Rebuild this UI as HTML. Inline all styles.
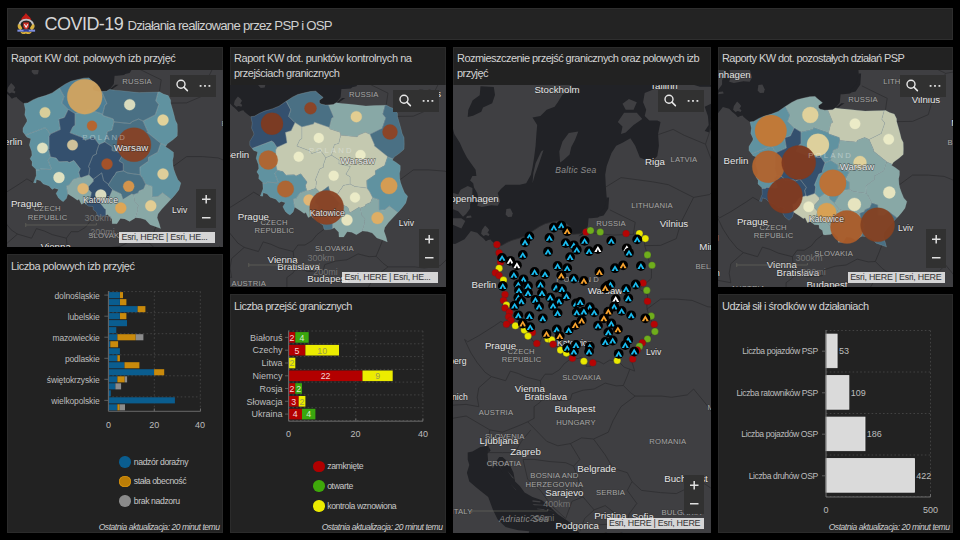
<!DOCTYPE html><html><head><meta charset="utf-8"><style>
*{box-sizing:border-box}
body{margin:0;width:960px;height:540px;background:#000;overflow:hidden;position:relative;font-family:"Liberation Sans",sans-serif;color:#ccc}
.pn{position:absolute;background:#222;border:1px solid #2b2b2b}
.hd{position:absolute;left:7px;top:8px;width:946px;height:32px;background:#232323;border:1px solid #2e2e2e}
.tt{position:absolute;left:3px;top:3.2px;font-size:11px;letter-spacing:-0.45px;color:#d2d2d2;line-height:15px;white-space:nowrap}
.map{position:absolute;display:block}
.tb{position:absolute;width:46px;height:22px;background:#313131}
.tb svg,.zm svg{display:block}
.zm{position:absolute;width:20px;height:39px;background:#313131}
.attr{position:absolute;height:10.6px;background:rgba(235,235,235,0.88);color:#333;font-size:8.9px;line-height:10.6px;padding-left:2.5px;white-space:nowrap;overflow:hidden;letter-spacing:-0.25px}
.ct{font-size:9.7px;fill:#e6e6e6;text-anchor:middle;stroke:#2a2a2a;stroke-width:1.3px;paint-order:stroke;stroke-opacity:0.55}
.cl{font-size:7.7px;fill:#a5a5a5;text-anchor:middle;letter-spacing:0.15px;stroke:#333;stroke-width:1.2px;paint-order:stroke;stroke-opacity:0.5}
.wl{font-size:8.5px;fill:#8d8d8d;text-anchor:middle;font-style:italic;letter-spacing:0.3px}
.sb{font-size:9px;fill:#7a7a7a;text-anchor:middle;opacity:0.9}
.ax{font-size:8.5px;fill:#bdbdbd}
.foot{position:absolute;font-size:8.5px;font-style:italic;color:#cfcfcf;white-space:nowrap;letter-spacing:-0.45px}
.lg{position:absolute;font-size:8.7px;color:#c8c8c8;white-space:nowrap;letter-spacing:-0.4px}
.lg i{position:absolute;width:11.5px;height:11.5px;border-radius:50%}
</style></head><body>
<div class="hd"></div>
<svg style="position:absolute;left:14px;top:10px" width="26" height="28" viewBox="14 10 26 28">
<path d="M21.2,20.3C21.3,17.5 23.2,16.8 24.3,15.2C25.1,14.1 25.6,13.4 25.9,12.9C26.4,13.6 27.1,14.5 28,15.6C29.3,17.1 31.2,18 31.1,20.3Z" fill="#c41d17"/>
<path d="M19.2,27.5C18.6,22.3 22,19.6 26.2,19.6C30.4,19.6 33.8,22.3 33.2,27.5" fill="none" stroke="#bfc1c6" stroke-width="1.9"/>
<path d="M17.8,24.6C17.3,27.3 18.2,29.3 20.6,30.3L22.3,28.2C21.6,26.8 20.6,25.4 19.6,24.3Z" fill="#d9b23e"/>
<path d="M34.4,24.6C34.9,27.3 34,29.3 31.6,30.3L29.9,28.2C30.6,26.8 31.6,25.4 32.6,24.3Z" fill="#d9b23e"/>
<path d="M23.3,22.6H28.9V26.2C28.9,27.8 27.6,28.9 26.1,29.3C24.6,28.9 23.3,27.8 23.3,26.2Z" fill="#cf2e27"/>
<path d="M24.4,24.3L26.1,27.2L27.8,24.3" fill="none" stroke="#f2f2f2" stroke-width="1.1"/>
<path d="M17.4,29.6H35.1V31.7H17.4Z" fill="#7f8fe0"/>
<path d="M23.5,29.9H28.8V31.5H23.5Z" fill="#2f3f9a"/>
<path d="M20.4,31.8C21.2,33.9 23.4,34.8 25.9,33.5C28.4,34.8 30.8,33.9 31.8,31.8C29.8,32.6 27.8,32.2 26.1,31.8C24.4,32.2 22.3,32.6 20.4,31.8Z" fill="#d8ae3c"/>
</svg>
<div style="position:absolute;left:44.6px;top:14px;font-size:18px;color:#d6d6d6;letter-spacing:-0.55px;white-space:nowrap">COVID-19</div>
<div style="position:absolute;left:127.5px;top:17.5px;font-size:13.2px;color:#d0d0d0;letter-spacing:-0.75px;white-space:nowrap">Działania realizowane przez PSP i OSP</div>
<div class="pn" style="left:7px;top:47px;width:216px;height:200px"><div class="tt" style="letter-spacing:-0.42px">Raport KW dot. polowych izb przyjęć</div></div>
<div class="pn" style="left:230px;top:47px;width:216px;height:240px"><div class="tt" style="letter-spacing:-0.44px">Raport KW dot. punktów kontrolnych na<br><span style="letter-spacing:-0.5px">przejściach granicznych</span></div></div>
<div class="pn" style="left:453px;top:47px;width:258px;height:486px"><div class="tt" style="letter-spacing:-0.54px">Rozmieszczenie przejść granicznych oraz polowych izb<br>przyjęć</div></div>
<div class="pn" style="left:718px;top:47px;width:235px;height:240px"><div class="tt" style="letter-spacing:-0.58px">Raporty KW dot. pozostałych działań PSP</div></div>
<div class="pn" style="left:7px;top:254px;width:216px;height:279px"><div class="tt" style="top:4.2px;letter-spacing:-0.45px">Liczba polowych izb przyjęć</div></div>
<div class="pn" style="left:230px;top:294px;width:216px;height:239px"><div class="tt" style="top:4.2px;letter-spacing:-0.52px">Liczba przejść granicznych</div></div>
<div class="pn" style="left:718px;top:294px;width:235px;height:239px"><div class="tt" style="top:4.2px;letter-spacing:-0.47px">Udział sił i środków w działaniach</div></div>
<svg width="0" height="0" style="position:absolute"><defs>
<g id="mkb"><circle r="4.9" fill="#000"/><path d="M-3.6,2.9L0,-3L3.6,2.9ZM-1.2,2.9L0,0.1L1.2,2.9Z" fill="#19bcf0" fill-rule="evenodd"/></g>
<g id="mko"><circle r="4.9" fill="#000"/><path d="M-3.6,2.9L0,-3L3.6,2.9ZM-1.2,2.9L0,0.1L1.2,2.9Z" fill="#f7a22e" fill-rule="evenodd"/></g>
<g id="mkw"><circle r="4.9" fill="#000"/><path d="M-3.6,2.9L0,-3L3.6,2.9ZM-1.2,2.9L0,0.1L1.2,2.9Z" fill="#ffffff" fill-rule="evenodd"/></g>
</defs></svg>
<svg class="map" style="left:7px;top:70px;width:216px;height:177px" viewBox="7 70 216 177">
<defs><clipPath id="c7"><rect x="7" y="70" width="216" height="177"/></clipPath></defs>
<g clip-path="url(#c7)">
<rect x="7" y="70" width="216" height="177" fill="#3f3f42"/>
<path d="M-58.4,-79.3L-23.7,-73.0L-25.3,-44.9L-23.7,-29.7L-22.1,-17.6L-19.7,-8.6L-14.2,0.2L-11.0,7.6L-7.1,14.9L-3.1,20.7L1.6,27.3L2.4,33.6L-1.6,33.6L-3.9,37.9L-0.8,40.8L0.0,45.0L3.2,50.6L4.8,57.7L3.2,63.2L7.9,64.6L17.4,62.7L23.7,63.2L26.1,59.1L23.7,50.6L26.9,46.4L31.6,42.2L41.1,42.2L45.8,42.2L52.2,40.8L56.9,32.2L58.5,25.0L60.1,14.9L61.6,3.2L62.4,-8.6L63.2,-17.6L58.5,-25.1L66.4,-26.6L72.7,-32.7L80.6,-35.7L83.8,-40.3L88.5,-48.0L94.8,-51.1L101.1,-63.6L96.4,-76.2L99.6,-92.1L131.2,-92.1L147.0,-73.0L162.8,-69.8L178.6,-76.2L194.4,-79.3L210.2,-85.7L226.0,-88.9L249.7,-92.1L249.7,-60.4L241.8,-55.8L226.0,-55.8L210.2,-60.4L194.4,-57.3L186.5,-55.8L178.6,-52.7L170.7,-49.6L169.1,-40.3L172.2,-32.7L170.7,-26.6L175.4,-22.1L183.3,-22.1L186.5,-20.6L184.1,-8.6L184.9,3.2L183.3,13.4L180.1,16.9L172.2,17.8L165.9,14.9L161.2,3.2L156.4,-4.2L148.5,0.2L142.2,3.2L137.5,10.5L132.7,23.6L131.2,32.2L132.0,46.4L132.7,54.9L133.5,63.2L129.6,68.8L124.1,75.1L116.9,75.7L114.6,75.7L113.8,83.9L109.4,89.4L106.5,91.3L98.8,91.8L94.0,90.7L92.5,89.1L92.5,86.9L96.4,84.2L90.9,79.8L89.1,77.9L83.8,78.2L76.8,79.8L71.1,81.2L65.6,83.9L58.6,88.5L52.2,92.9L45.5,95.6L37.9,97.8L32.9,99.9L27.7,102.9L24.0,103.4L20.6,101.0L17.4,98.3L16.6,96.9L14.2,97.5L11.9,98.8L9.5,96.1L7.1,94.0L6.3,93.4L3.2,90.2L-3.1,88.5L-9.5,96.7L-18.9,101.5L-26.8,100.2L-58.4,88.0Z" fill="#212226"/>
<path d="M-6.3,310.1L-1.6,309.0L6.3,304.5L14.2,303.3L16.6,307.9L13.5,311.2L14.2,319.1L19.0,325.8L22.1,319.1L25.3,314.6L28.5,314.6L34.8,320.2L39.5,330.2L41.1,339.1L45.8,343.5L50.6,350.1L58.5,354.4L68.0,357.7L75.9,364.2L83.8,371.7L91.7,377.1L96.4,380.3L101.1,384.6L105.1,389.9L107.5,397.3L107.5,438.8L52.2,438.8L52.2,398.3L55.3,388.8L44.3,387.8L31.6,384.6L23.7,377.1L19.0,367.4L14.2,354.4L3.2,345.7L-4.7,339.1L-7.1,330.2L-4.7,322.4L-6.3,316.9Z" fill="#212226"/>
<path d="M7.1,91.3L9.5,93.4L11.9,92.6L14.6,93.4L15.5,91.8L13.5,90.2L15.2,87.5L13.5,85.3L11.1,83.1L9.5,85.3L7.9,87.5Z" fill="#3f3f42"/>
<path d="M31.6,72.1L32.4,66.6L36.4,66.0L38.7,70.7L37.9,74.3L34.0,74.6Z" fill="#3f3f42"/>
<path d="M58.5,40.8L60.9,32.2L65.6,19.2L69.5,7.6L67.2,9.1L61.6,20.7L59.3,30.8Z" fill="#3f3f42"/>
<path d="M86.1,20.1L85.3,9.1L88.5,-0.9L94.8,-9.5L104.3,-11.0L101.1,-2.7L97.2,4.7L95.6,12.0L89.3,17.8Z" fill="#3f3f42"/>
<path d="M-25.3,54.9L-24.5,65.2L-15.8,68.8L-11.0,74.3L-7.9,71.6L-3.9,66.0L-3.9,61.8L-1.6,56.3L-1.6,45.6L-6.3,43.6L-13.4,47.3L-15.8,52.1L-20.5,50.6Z" fill="#3f3f42"/>
<path d="M-26.8,78.4L-20.5,82.5L-12.6,86.1L-8.7,78.4L-12.6,75.7L-22.1,75.7Z" fill="#3f3f42"/>
<path d="M-7.9,75.7L-2.3,75.1L-3.1,72.9L-7.1,73.5Z" fill="#3f3f42"/>
<path d="M143.8,-20.6L150.1,-29.7L162.8,-29.7L168.3,-23.6L159.6,-17.6L151.7,-10.1L147.0,-8.6L148.5,-16.1Z" fill="#3f3f42"/>
<path d="M148.5,-38.8L154.9,-43.4L162.8,-40.3L159.6,-32.7L151.7,-32.7Z" fill="#3f3f42"/>
<path d="M28.5,321.3L33.2,316.9L31.6,322.4Z" fill="#3f3f42"/>
<path d="M25.3,319.1L27.7,328.0L28.5,330.2L26.1,323.6Z" fill="#3f3f42"/>
<path d="M33.2,328.0L41.1,336.9L37.9,334.7Z" fill="#3f3f42"/>
<path d="M58.5,357.7L66.4,358.8L66.4,359.9L58.5,359.2Z" fill="#3f3f42"/>
<path d="M58.5,361.4L71.1,362.5L69.5,363.1L60.1,362.7Z" fill="#3f3f42"/>
<path d="M63.2,365.9L71.1,366.8L69.5,367.4L63.2,366.8Z" fill="#3f3f42"/>
<path d="M36.4,341.3L42.7,347.9L41.1,346.8Z" fill="#3f3f42"/>
<path d="M72.7,366.3L80.6,369.6L75.9,367.9Z" fill="#3f3f42"/>
<path d="M6.5,-56.2L19.8,-55.5L21.0,-47.5L18.2,-39.2L9.0,-35.0L7.3,-30.8L-1.0,-26.7L-6.3,-25.5L-5.7,-32.5L-1.3,-42.2L5.7,-47.2Z" fill="#212226"/>
<path d="M104.3,94.0L109.4,89.4L115.4,84.7L118.5,84.7L113.8,88.0L108.3,92.6Z" fill="#212226"/>
<path d="M124.1,74.3L129.6,72.9L134.3,66.0L135.1,54.9L132.7,54.9L130.4,66.0L124.8,71.6Z" fill="#212226"/>
<path d="M230.7,-11.6L234.7,-17.6L233.9,-26.6L230.7,-35.7L237.0,-38.8L241.8,-32.7L240.2,-20.6L235.4,-10.1Z" fill="#212226"/>
<path d="M33.5,182.7L26.9,178.9L20.6,183.2L4.8,193.2L-6.3,199.3L-9.5,196.9L-3.1,210.4L3.2,220.1L11.1,229.8L17.4,234.1M17.4,234.1L31.6,238.2L36.4,228.6L44.3,231.0L52.2,234.6L66.4,238.2M66.4,238.2L71.1,231.7L78.2,231.7L85.3,227.4L90.1,221.4L97.2,216.0M70.3,252.4L80.6,258.3L96.4,257.2L98.0,251.3L109.0,247.7L120.1,246.5L131.2,240.6L142.2,243.4L149.3,243.0M149.3,243.0L153.3,233.4L155.8,226.7M66.4,238.2L67.2,246.5L70.3,252.4M70.3,252.4L66.4,259.5L60.1,264.2L60.1,275.8L53.7,279.3M53.7,279.3L61.6,287.4L72.7,298.8L83.8,303.3L96.4,301.1M96.4,301.1L107.5,295.4L119.5,296.5M119.5,296.5L134.3,289.7L139.1,278.1L147.0,264.2L161.2,253.6M149.3,243.0L156.4,250.1L161.2,253.6M161.2,253.6L170.7,253.6L188.0,253.6L197.5,254.8L213.3,252.4L219.6,246.5M219.6,246.5L232.3,261.9L241.8,275.8L244.9,287.4M119.5,296.5L131.2,312.4L139.1,325.8L153.3,330.2L158.0,339.1M158.0,339.1L153.3,347.9L162.8,360.9L154.9,371.7L153.3,380.3M158.0,339.1L167.5,347.9L186.5,350.1L202.3,351.1L218.1,343.5L230.7,341.3L241.8,349.0M96.4,301.1L105.9,316.9L99.6,323.6M49.0,316.9L60.1,316.9L75.9,319.1L91.7,320.2L99.6,323.6M49.0,316.9L53.7,336.9L66.4,347.9L77.4,363.1L91.7,376.0M99.6,323.6L104.3,336.9L109.0,354.4M91.7,376.0L98.0,358.8L109.0,354.4M109.0,354.4L120.1,367.4L110.6,376.0L105.9,388.8M120.1,367.4L131.2,363.1L142.2,371.7L139.1,381.4M123.3,382.4L139.1,381.4L153.3,380.3M14.2,310.1L28.5,310.1L41.1,310.1L47.4,298.8L56.9,287.4M15.8,287.4L28.5,289.7L45.8,282.8L53.7,279.3M15.8,287.4L14.2,298.8L14.2,310.1M-34.7,278.1L-7.9,273.5L15.8,287.4M-49.0,264.2L-7.9,261.9L4.8,264.2L3.2,254.8L4.8,245.3L17.4,234.1M132.0,44.4L147.0,35.1L178.6,39.3L194.4,42.2L219.6,54.9M170.7,103.1L186.5,102.9L202.3,96.1L207.0,79.8L219.6,54.9M159.4,91.8L161.2,79.8L147.0,72.9L135.9,67.4M184.1,-7.8L199.1,-13.1L210.2,-7.2L231.5,1.7M219.6,54.9L235.4,52.1L244.9,43.6L238.6,20.7L231.5,1.7M231.5,1.7L235.4,-10.1L241.8,-55.8M172.7,166.8L186.5,156.6L202.3,156.6L218.1,157.9L233.9,164.3L249.7,165.5" fill="none" stroke="#2d2d30" stroke-width="0.8"/>
<path d="M24.0,103.4L27.7,102.9L32.9,99.9L37.9,97.8L45.5,95.6L52.2,92.9L58.6,88.5L65.6,83.9L71.1,81.2L76.8,79.8L83.8,78.2L89.1,77.9L90.9,79.8L96.4,84.2L92.5,86.9L92.5,89.1L94.0,90.7L98.8,91.8L106.5,91.3L109.4,89.4L115.4,90.2L121.7,90.7L131.2,91.8L139.1,92.6L147.0,92.3L159.4,91.8L163.6,94.0L168.3,95.6L170.7,100.2L170.7,103.1L172.6,109.6L174.1,114.9L175.4,120.2L177.3,124.1L177.5,130.7L177.3,135.9L173.0,139.8L167.5,143.7L165.5,146.8L169.1,148.9L173.5,152.2L173.5,156.6L172.7,160.2L173.0,165.5L173.8,169.3L175.7,174.4L177.8,179.4L180.9,182.9L179.0,189.7L175.4,194.4L171.9,198.4L165.9,204.8L161.7,209.2L158.0,214.1L157.2,217.7L159.3,223.8L160.6,228.6L155.8,226.7L150.1,224.7L145.4,219.7L140.6,218.2L135.6,217.7L129.6,221.4L124.8,218.9L120.4,218.4L116.9,223.8L112.2,223.8L111.9,218.9L107.5,214.5L104.3,216.0L98.8,216.5L97.2,216.0L96.4,212.1L93.2,209.7L92.9,206.5L88.5,206.2L84.6,203.0L81.4,204.3L79.0,199.3L77.4,200.3L73.5,197.4L68.0,193.9L66.4,198.6L63.2,201.8L61.3,200.6L58.5,198.1L56.0,193.4L58.5,189.4L54.5,188.2L52.2,189.4L49.0,185.9L43.2,183.9L40.3,180.7L36.4,179.4L36.0,182.9L33.5,182.7L35.6,176.9L36.2,175.7L35.9,169.3L31.9,165.5L32.1,161.7L30.0,158.7L31.9,155.3L31.6,151.5L29.3,145.0L30.8,138.8L26.9,137.2L22.9,132.0L22.9,128.1L26.9,121.5L26.9,119.7L24.7,114.9L25.3,109.6L24.0,103.4Z" fill="none" stroke="#2d2d30" stroke-width="0.8"/>
<path d="M25.4,135.1L44.8,127.8L46.9,129.1L50.1,134.1L60.3,129.5L58.7,119.2L64.4,117.4L68.2,109.5L61.8,103.0L64.0,96.6L59.4,88.0L58.6,88.5L52.2,92.9L45.5,95.6L37.9,97.8L32.9,99.9L27.7,102.9L24.0,103.4L25.3,109.6L24.7,114.9L26.9,119.7L26.9,121.5L22.9,128.1L22.9,132.0L25.3,135.1L25.4,135.1Z" fill="#6092a0"/>
<path d="M64.0,96.6L61.8,103.0L68.2,109.5L68.5,109.5L75.1,113.6L86.8,110.8L87.6,108.9L102.6,114.2L104.9,105.0L106.9,103.7L101.8,91.6L98.8,91.8L94.0,90.7L92.5,89.1L92.5,86.9L96.4,84.2L90.9,79.8L89.1,77.9L83.8,78.2L76.8,79.8L71.1,81.2L65.6,83.9L59.4,88.0L64.0,96.6Z" fill="#4e7f96"/>
<path d="M106.9,103.7L104.9,105.0L102.6,114.2L103.1,115.6L113.2,118.9L113.9,121.9L129.8,123.5L130.9,123.2L131.6,121.8L138.6,119.0L143.1,121.0L154.7,115.2L155.1,115.3L158.8,104.5L155.8,100.8L158.2,91.9L147.0,92.3L139.1,92.6L131.2,91.8L121.7,90.7L115.4,90.2L109.4,89.4L106.5,91.3L101.8,91.6L106.9,103.7Z" fill="#4a7084"/>
<path d="M155.8,100.8L158.8,104.5L155.1,115.3L154.7,115.2L143.1,121.0L147.7,131.6L147.3,132.4L160.4,143.0L160.8,143.8L161.3,143.8L166.2,145.7L167.5,143.7L173.0,139.8L177.3,135.9L177.5,130.7L177.3,124.1L175.4,120.2L174.1,114.9L172.6,109.6L170.7,103.1L170.7,100.2L168.3,95.6L163.6,94.0L159.4,91.8L158.2,91.9L155.8,100.8Z" fill="#6092a0"/>
<path d="M113.9,121.9L113.2,118.9L103.1,115.6L102.6,114.2L87.6,108.9L86.8,110.8L75.1,113.6L75.1,125.3L75.1,125.3L72.9,126.7L70.1,132.7L70.1,132.8L83.3,137.8L85.0,140.3L93.7,137.1L99.0,144.4L104.8,141.9L107.5,131.5L112.0,130.0L113.9,121.9Z" fill="#6092a0"/>
<path d="M104.8,141.9L112.3,146.8L112.1,150.5L123.6,153.2L119.1,160.9L123.3,163.5L123.3,170.8L128.0,173.2L128.2,173.1L140.2,174.8L139.9,167.2L148.6,161.1L148.4,157.4L157.8,152.2L160.5,144.1L160.8,143.8L160.4,143.0L147.3,132.4L147.7,131.6L143.1,121.0L138.6,119.0L131.6,121.8L130.9,123.2L129.8,123.5L113.9,121.9L112.0,130.0L107.5,131.5L104.8,141.9Z" fill="#4a7084"/>
<path d="M46.9,129.1L44.8,127.8L25.4,135.1L25.3,135.1L26.9,137.2L30.8,138.8L29.3,145.0L31.6,151.5L31.9,155.3L30.0,158.7L32.1,161.7L31.9,165.5L35.9,169.3L35.9,170.0L39.1,170.1L40.7,168.9L50.6,169.5L51.3,168.7L48.1,160.1L50.5,157.0L48.6,149.3L49.0,148.8L49.0,136.5L50.1,134.7L50.1,134.1L46.9,129.1Z" fill="#6092a0"/>
<path d="M58.7,119.2L60.3,129.5L50.1,134.1L50.1,134.7L49.0,136.5L49.0,148.8L48.6,149.3L50.5,157.0L56.1,158.1L59.0,161.8L67.4,161.5L69.2,162.6L73.9,160.5L80.3,168.8L78.7,172.2L79.9,177.2L81.1,177.8L88.9,174.9L89.7,168.4L88.5,166.6L92.9,155.7L96.6,153.9L96.5,151.9L99.0,144.4L93.7,137.1L85.0,140.3L83.3,137.8L70.1,132.8L70.1,132.7L72.9,126.7L75.1,125.3L75.1,125.3L75.1,113.6L68.5,109.5L68.2,109.5L64.4,117.4L58.7,119.2Z" fill="#34506e"/>
<path d="M96.5,151.9L96.6,153.9L92.9,155.7L88.5,166.6L89.7,168.4L88.9,174.9L93.2,179.3L101.7,172.9L103.6,180.6L108.5,184.4L113.8,176.0L114.4,175.8L116.4,172.1L123.3,170.8L123.3,163.5L119.1,160.9L123.6,153.2L112.1,150.5L112.3,146.8L104.8,141.9L99.0,144.4L96.5,151.9Z" fill="#34506e"/>
<path d="M160.5,144.1L157.8,152.2L148.4,157.4L148.6,161.1L139.9,167.2L140.2,174.8L141.7,177.0L142.1,177.1L145.7,184.3L152.1,186.4L152.1,196.6L152.6,197.0L158.0,196.5L162.5,192.8L171.0,199.3L171.9,198.4L175.4,194.4L179.0,189.7L180.9,182.9L177.8,179.4L175.7,174.4L173.8,169.3L173.0,165.5L172.7,160.2L173.5,156.6L173.5,152.2L169.1,148.9L165.5,146.8L166.2,145.7L161.3,143.8L160.8,143.8L160.5,144.1Z" fill="#6092a0"/>
<path d="M40.7,168.9L39.1,170.1L35.9,170.0L36.2,175.7L35.6,176.9L33.5,182.7L36.0,182.9L36.4,179.4L40.3,180.7L43.2,183.9L49.0,185.9L52.2,189.4L54.5,188.2L58.5,189.4L56.0,193.4L58.5,198.1L61.3,200.6L63.2,201.8L66.4,198.6L67.9,194.1L66.6,185.9L69.2,185.1L73.2,179.6L79.9,177.2L78.7,172.2L80.3,168.8L73.9,160.5L69.2,162.6L67.4,161.5L59.0,161.8L56.1,158.1L50.5,157.0L48.1,160.1L51.3,168.7L50.6,169.5L40.7,168.9Z" fill="#6092a0"/>
<path d="M88.9,174.9L81.1,177.8L79.9,177.2L73.2,179.6L69.2,185.1L66.6,185.9L67.9,194.1L68.0,193.9L73.5,197.4L77.4,200.3L79.0,199.3L81.4,204.3L84.6,203.0L86.0,204.2L86.6,201.5L90.3,198.2L91.4,192.4L88.6,189.6L88.6,186.5L93.4,181.3L93.2,179.3L88.9,174.9Z" fill="#88a8a6"/>
<path d="M88.6,189.6L91.4,192.4L90.3,198.2L86.6,201.5L86.0,204.2L88.5,206.2L92.9,206.5L93.2,209.7L96.4,212.1L97.2,216.0L98.8,216.5L104.3,216.0L105.9,215.3L105.9,209.1L104.8,208.7L100.5,203.3L106.1,198.1L109.0,198.1L112.5,189.9L112.4,189.5L108.5,185.3L108.5,184.4L103.6,180.6L101.7,172.9L93.2,179.3L93.4,181.3L88.6,186.5L88.6,189.6Z" fill="#34506e"/>
<path d="M128.2,173.1L128.0,173.2L123.3,170.8L116.4,172.1L114.4,175.8L113.8,176.0L108.5,184.4L108.5,185.3L112.4,189.5L112.5,189.9L121.1,194.0L122.9,199.6L131.8,194.1L133.6,194.7L138.3,192.9L139.0,191.1L143.7,189.1L145.7,184.3L142.1,177.1L141.7,177.0L140.2,174.8L128.2,173.1Z" fill="#4a7084"/>
<path d="M106.1,198.1L100.5,203.3L104.8,208.7L105.9,209.1L105.9,215.3L107.5,214.5L111.9,218.9L112.2,223.8L116.9,223.8L120.4,218.4L124.8,218.9L129.6,221.4L135.3,217.9L137.9,209.5L137.6,207.3L138.5,205.8L134.8,201.6L133.6,194.7L131.8,194.1L122.9,199.6L121.1,194.0L112.5,189.9L109.0,198.1L106.1,198.1Z" fill="#88a8a6"/>
<path d="M143.7,189.1L139.0,191.1L138.3,192.9L133.6,194.7L134.8,201.6L138.5,205.8L137.6,207.3L137.9,209.5L135.3,217.9L135.6,217.7L140.6,218.2L145.4,219.7L150.1,224.7L155.8,226.7L160.6,228.6L159.3,223.8L157.2,217.7L158.0,214.1L161.7,209.2L165.9,204.8L171.0,199.3L162.5,192.8L158.0,196.5L152.6,197.0L152.1,196.6L152.1,186.4L145.7,184.3L143.7,189.1Z" fill="#88a8a6"/>
<path d="M25.4,135.1L44.8,127.8L46.9,129.1L50.1,134.1L60.3,129.5L58.7,119.2L64.4,117.4L68.2,109.5L61.8,103.0L64.0,96.6L59.4,88.0L58.6,88.5L52.2,92.9L45.5,95.6L37.9,97.8L32.9,99.9L27.7,102.9L24.0,103.4L25.3,109.6L24.7,114.9L26.9,119.7L26.9,121.5L22.9,128.1L22.9,132.0L25.3,135.1L25.4,135.1ZM64.0,96.6L61.8,103.0L68.2,109.5L68.5,109.5L75.1,113.6L86.8,110.8L87.6,108.9L102.6,114.2L104.9,105.0L106.9,103.7L101.8,91.6L98.8,91.8L94.0,90.7L92.5,89.1L92.5,86.9L96.4,84.2L90.9,79.8L89.1,77.9L83.8,78.2L76.8,79.8L71.1,81.2L65.6,83.9L59.4,88.0L64.0,96.6ZM106.9,103.7L104.9,105.0L102.6,114.2L103.1,115.6L113.2,118.9L113.9,121.9L129.8,123.5L130.9,123.2L131.6,121.8L138.6,119.0L143.1,121.0L154.7,115.2L155.1,115.3L158.8,104.5L155.8,100.8L158.2,91.9L147.0,92.3L139.1,92.6L131.2,91.8L121.7,90.7L115.4,90.2L109.4,89.4L106.5,91.3L101.8,91.6L106.9,103.7ZM155.8,100.8L158.8,104.5L155.1,115.3L154.7,115.2L143.1,121.0L147.7,131.6L147.3,132.4L160.4,143.0L160.8,143.8L161.3,143.8L166.2,145.7L167.5,143.7L173.0,139.8L177.3,135.9L177.5,130.7L177.3,124.1L175.4,120.2L174.1,114.9L172.6,109.6L170.7,103.1L170.7,100.2L168.3,95.6L163.6,94.0L159.4,91.8L158.2,91.9L155.8,100.8ZM113.9,121.9L113.2,118.9L103.1,115.6L102.6,114.2L87.6,108.9L86.8,110.8L75.1,113.6L75.1,125.3L75.1,125.3L72.9,126.7L70.1,132.7L70.1,132.8L83.3,137.8L85.0,140.3L93.7,137.1L99.0,144.4L104.8,141.9L107.5,131.5L112.0,130.0L113.9,121.9ZM104.8,141.9L112.3,146.8L112.1,150.5L123.6,153.2L119.1,160.9L123.3,163.5L123.3,170.8L128.0,173.2L128.2,173.1L140.2,174.8L139.9,167.2L148.6,161.1L148.4,157.4L157.8,152.2L160.5,144.1L160.8,143.8L160.4,143.0L147.3,132.4L147.7,131.6L143.1,121.0L138.6,119.0L131.6,121.8L130.9,123.2L129.8,123.5L113.9,121.9L112.0,130.0L107.5,131.5L104.8,141.9ZM46.9,129.1L44.8,127.8L25.4,135.1L25.3,135.1L26.9,137.2L30.8,138.8L29.3,145.0L31.6,151.5L31.9,155.3L30.0,158.7L32.1,161.7L31.9,165.5L35.9,169.3L35.9,170.0L39.1,170.1L40.7,168.9L50.6,169.5L51.3,168.7L48.1,160.1L50.5,157.0L48.6,149.3L49.0,148.8L49.0,136.5L50.1,134.7L50.1,134.1L46.9,129.1ZM58.7,119.2L60.3,129.5L50.1,134.1L50.1,134.7L49.0,136.5L49.0,148.8L48.6,149.3L50.5,157.0L56.1,158.1L59.0,161.8L67.4,161.5L69.2,162.6L73.9,160.5L80.3,168.8L78.7,172.2L79.9,177.2L81.1,177.8L88.9,174.9L89.7,168.4L88.5,166.6L92.9,155.7L96.6,153.9L96.5,151.9L99.0,144.4L93.7,137.1L85.0,140.3L83.3,137.8L70.1,132.8L70.1,132.7L72.9,126.7L75.1,125.3L75.1,125.3L75.1,113.6L68.5,109.5L68.2,109.5L64.4,117.4L58.7,119.2ZM96.5,151.9L96.6,153.9L92.9,155.7L88.5,166.6L89.7,168.4L88.9,174.9L93.2,179.3L101.7,172.9L103.6,180.6L108.5,184.4L113.8,176.0L114.4,175.8L116.4,172.1L123.3,170.8L123.3,163.5L119.1,160.9L123.6,153.2L112.1,150.5L112.3,146.8L104.8,141.9L99.0,144.4L96.5,151.9ZM160.5,144.1L157.8,152.2L148.4,157.4L148.6,161.1L139.9,167.2L140.2,174.8L141.7,177.0L142.1,177.1L145.7,184.3L152.1,186.4L152.1,196.6L152.6,197.0L158.0,196.5L162.5,192.8L171.0,199.3L171.9,198.4L175.4,194.4L179.0,189.7L180.9,182.9L177.8,179.4L175.7,174.4L173.8,169.3L173.0,165.5L172.7,160.2L173.5,156.6L173.5,152.2L169.1,148.9L165.5,146.8L166.2,145.7L161.3,143.8L160.8,143.8L160.5,144.1ZM40.7,168.9L39.1,170.1L35.9,170.0L36.2,175.7L35.6,176.9L33.5,182.7L36.0,182.9L36.4,179.4L40.3,180.7L43.2,183.9L49.0,185.9L52.2,189.4L54.5,188.2L58.5,189.4L56.0,193.4L58.5,198.1L61.3,200.6L63.2,201.8L66.4,198.6L67.9,194.1L66.6,185.9L69.2,185.1L73.2,179.6L79.9,177.2L78.7,172.2L80.3,168.8L73.9,160.5L69.2,162.6L67.4,161.5L59.0,161.8L56.1,158.1L50.5,157.0L48.1,160.1L51.3,168.7L50.6,169.5L40.7,168.9ZM88.9,174.9L81.1,177.8L79.9,177.2L73.2,179.6L69.2,185.1L66.6,185.9L67.9,194.1L68.0,193.9L73.5,197.4L77.4,200.3L79.0,199.3L81.4,204.3L84.6,203.0L86.0,204.2L86.6,201.5L90.3,198.2L91.4,192.4L88.6,189.6L88.6,186.5L93.4,181.3L93.2,179.3L88.9,174.9ZM88.6,189.6L91.4,192.4L90.3,198.2L86.6,201.5L86.0,204.2L88.5,206.2L92.9,206.5L93.2,209.7L96.4,212.1L97.2,216.0L98.8,216.5L104.3,216.0L105.9,215.3L105.9,209.1L104.8,208.7L100.5,203.3L106.1,198.1L109.0,198.1L112.5,189.9L112.4,189.5L108.5,185.3L108.5,184.4L103.6,180.6L101.7,172.9L93.2,179.3L93.4,181.3L88.6,186.5L88.6,189.6ZM128.2,173.1L128.0,173.2L123.3,170.8L116.4,172.1L114.4,175.8L113.8,176.0L108.5,184.4L108.5,185.3L112.4,189.5L112.5,189.9L121.1,194.0L122.9,199.6L131.8,194.1L133.6,194.7L138.3,192.9L139.0,191.1L143.7,189.1L145.7,184.3L142.1,177.1L141.7,177.0L140.2,174.8L128.2,173.1ZM106.1,198.1L100.5,203.3L104.8,208.7L105.9,209.1L105.9,215.3L107.5,214.5L111.9,218.9L112.2,223.8L116.9,223.8L120.4,218.4L124.8,218.9L129.6,221.4L135.3,217.9L137.9,209.5L137.6,207.3L138.5,205.8L134.8,201.6L133.6,194.7L131.8,194.1L122.9,199.6L121.1,194.0L112.5,189.9L109.0,198.1L106.1,198.1ZM143.7,189.1L139.0,191.1L138.3,192.9L133.6,194.7L134.8,201.6L138.5,205.8L137.6,207.3L137.9,209.5L135.3,217.9L135.6,217.7L140.6,218.2L145.4,219.7L150.1,224.7L155.8,226.7L160.6,228.6L159.3,223.8L157.2,217.7L158.0,214.1L161.7,209.2L165.9,204.8L171.0,199.3L162.5,192.8L158.0,196.5L152.6,197.0L152.1,196.6L152.1,186.4L145.7,184.3L143.7,189.1Z" fill="none" stroke="#9fb0b4" stroke-opacity="0.45" stroke-width="0.6"/>
<circle cx="45" cy="112.5" r="5.3" fill="#ddd09a" fill-opacity="0.96" stroke="#ddd09a" stroke-opacity="0.5" stroke-width="0.6"/>
<circle cx="84.7" cy="96.7" r="17.5" fill="#d0a360" fill-opacity="0.96" stroke="#d0a360" stroke-opacity="0.5" stroke-width="0.6"/>
<circle cx="129.7" cy="104.7" r="5.5" fill="#dfe0c0" fill-opacity="0.96" stroke="#dfe0c0" stroke-opacity="0.5" stroke-width="0.6"/>
<circle cx="163" cy="120" r="5.5" fill="#e6d49a" fill-opacity="0.96" stroke="#e6d49a" stroke-opacity="0.5" stroke-width="0.6"/>
<circle cx="42.5" cy="148" r="5.3" fill="#e4e4c2" fill-opacity="0.96" stroke="#e4e4c2" stroke-opacity="0.5" stroke-width="0.6"/>
<circle cx="72.5" cy="145" r="5.3" fill="#d4c69c" fill-opacity="0.96" stroke="#d4c69c" stroke-opacity="0.5" stroke-width="0.6"/>
<circle cx="92" cy="125.8" r="5" fill="#b8632c" fill-opacity="0.96" stroke="#b8632c" stroke-opacity="0.5" stroke-width="0.6"/>
<circle cx="134" cy="144.7" r="17" fill="#854326" fill-opacity="0.96" stroke="#854326" stroke-opacity="0.5" stroke-width="0.6"/>
<circle cx="107" cy="164" r="5.5" fill="#a85228" fill-opacity="0.96" stroke="#a85228" stroke-opacity="0.5" stroke-width="0.6"/>
<circle cx="163" cy="174" r="5.5" fill="#e2d09a" fill-opacity="0.96" stroke="#e2d09a" stroke-opacity="0.5" stroke-width="0.6"/>
<circle cx="59" cy="177.5" r="5.5" fill="#e4e4c2" fill-opacity="0.96" stroke="#e4e4c2" stroke-opacity="0.5" stroke-width="0.6"/>
<circle cx="83" cy="188.7" r="5.5" fill="#e2b672" fill-opacity="0.96" stroke="#e2b672" stroke-opacity="0.5" stroke-width="0.6"/>
<circle cx="100.8" cy="195" r="5.5" fill="#e0e0c2" fill-opacity="0.96" stroke="#e0e0c2" stroke-opacity="0.5" stroke-width="0.6"/>
<circle cx="128.7" cy="186.3" r="5.5" fill="#d8964a" fill-opacity="0.96" stroke="#d8964a" stroke-opacity="0.5" stroke-width="0.6"/>
<circle cx="120.8" cy="208" r="5.5" fill="#e2a652" fill-opacity="0.96" stroke="#e2a652" stroke-opacity="0.5" stroke-width="0.6"/>
<circle cx="150.8" cy="205.8" r="5.5" fill="#e6ce92" fill-opacity="0.96" stroke="#e6ce92" stroke-opacity="0.5" stroke-width="0.6"/>
<text x="178.0" y="65.4" class="cl">LITHUANIA</text>
<text x="137.0" y="83.6" class="cl">RUSSIA</text>
<text x="240.0" y="126.4" class="cl">BELARUS</text>
<text x="104.6" y="139.8" class="cl" style="stroke:none;fill:#eef2f2;opacity:0.42;letter-spacing:2.2px">POLAND</text>
<text x="47.2" y="211.2" class="cl">CZECH</text>
<text x="47.6" y="219.8" class="cl">REPUBLIC</text>
<text x="107.6" y="237.9" class="cl">SLOVAKIA</text>
<text x="261.0" y="189.4" class="cl">UKRAINE</text>
<text x="200.0" y="84.1" class="ct">Vilnius</text>
<text x="238.0" y="107.1" class="ct">Minsk</text>
<text x="10.0" y="145.1" class="ct">Berlin</text>
<text x="131.0" y="151.1" class="ct">Warsaw</text>
<text x="26.5" y="206.7" class="ct">Prague</text>
<text x="179.6" y="212.6" class="ct" style="font-size:8.6px">Lviv</text>
<text x="100.5" y="203.1" class="ct" style="font-size:8.6px">Katowice</text>
<text x="-29.0" y="221.6" class="ct" style="font-size:8.6px">Nuremberg</text>
<text x="-20.0" y="257.6" class="ct" style="font-size:8.6px">Munich</text>
<text x="55.8" y="249.7" class="ct">Vienna</text>
<text x="71.8" y="257.1" class="ct">Bratislava</text>
<path d="M25.75,225H96.4M25.75,223V227M96.4,223V225" stroke="#6a6a60" stroke-width="0.8" fill="none" opacity="0.8"/>
<text x="98" y="221" class="sb">300km</text>
<text x="102.5" y="235" class="sb">200mi</text>
</g></svg>
<div class="tb" style="left:170px;top:75px"><svg width="46" height="22" viewBox="0 0 46 22"><circle cx="11" cy="9.2" r="4" fill="none" stroke="#e8e8e8" stroke-width="1.4"/><path d="M13.9,12.1L17.4,15.6" stroke="#e8e8e8" stroke-width="1.5" stroke-linecap="round"/><rect x="29.7" y="10" width="1.8" height="1.8" fill="#ddd"/><rect x="34.1" y="10" width="1.8" height="1.8" fill="#ddd"/><rect x="38.5" y="10" width="1.8" height="1.8" fill="#ddd"/></svg></div>
<div class="zm" style="left:196px;top:189px"><svg width="20" height="39" viewBox="0 0 20 39"><path d="M6,10.2H14.5M10.2,6V14.5M6,28.8H14.5" stroke="#e0e0e0" stroke-width="1.5"/></svg></div>
<div class="attr" style="left:119px;top:232px;width:96px">Esri, HERE | Esri, HE...</div>
<svg class="map" style="left:230px;top:85px;width:216px;height:202px" viewBox="230 85 216 202">
<defs><clipPath id="c230"><rect x="230" y="85" width="216" height="202"/></clipPath></defs>
<g clip-path="url(#c230)">
<rect x="230" y="85" width="216" height="202" fill="#3f3f42"/>
<path d="M168.4,-66.0L203.1,-59.7L201.5,-31.6L203.1,-16.4L204.7,-4.3L207.1,4.7L212.6,13.5L215.8,20.9L219.7,28.2L223.7,34.0L228.4,40.6L229.2,46.9L225.2,46.9L222.9,51.2L226.0,54.1L226.8,58.3L230.0,63.9L231.6,71.0L230.0,76.5L234.7,77.9L244.2,76.0L250.5,76.5L252.9,72.4L250.5,63.9L253.7,59.7L258.4,55.5L267.9,55.5L272.6,55.5L279.0,54.1L283.7,45.5L285.3,38.3L286.9,28.2L288.4,16.5L289.2,4.7L290.0,-4.3L285.3,-11.8L293.2,-13.3L299.5,-19.4L307.4,-22.4L310.6,-27.0L315.3,-34.7L321.6,-37.8L327.9,-50.3L323.2,-62.9L326.4,-78.8L358.0,-78.8L373.8,-59.7L389.6,-56.5L405.4,-62.9L421.2,-66.0L437.0,-72.4L452.8,-75.6L476.5,-78.8L476.5,-47.1L468.6,-42.5L452.8,-42.5L437.0,-47.1L421.2,-44.0L413.3,-42.5L405.4,-39.4L397.5,-36.3L395.9,-27.0L399.0,-19.4L397.5,-13.3L402.2,-8.8L410.1,-8.8L413.3,-7.3L410.9,4.7L411.7,16.5L410.1,26.7L406.9,30.2L399.0,31.1L392.7,28.2L388.0,16.5L383.2,9.1L375.3,13.5L369.0,16.5L364.3,23.8L359.5,36.9L358.0,45.5L358.8,59.7L359.5,68.2L360.3,76.5L356.4,82.1L350.9,88.4L343.7,89.0L341.4,89.0L340.6,97.2L336.2,102.7L333.3,104.6L325.6,105.1L320.8,104.0L319.3,102.4L319.3,100.2L323.2,97.5L317.7,93.1L315.9,91.2L310.6,91.5L303.6,93.1L297.9,94.5L292.4,97.2L285.4,101.8L279.0,106.2L272.3,108.9L264.7,111.1L259.7,113.2L254.5,116.2L250.8,116.7L247.4,114.3L244.2,111.6L243.4,110.2L241.0,110.8L238.7,112.1L236.3,109.4L233.9,107.3L233.1,106.7L230.0,103.5L223.7,101.8L217.3,110.0L207.9,114.8L200.0,113.5L168.4,101.3Z" fill="#212226"/>
<path d="M220.5,323.4L225.2,322.3L233.1,317.8L241.0,316.6L243.4,321.2L240.3,324.5L241.0,332.4L245.8,339.1L248.9,332.4L252.1,327.9L255.3,327.9L261.6,333.5L266.3,343.5L267.9,352.4L272.6,356.8L277.4,363.4L285.3,367.7L294.8,371.0L302.7,377.5L310.6,385.0L318.5,390.4L323.2,393.6L327.9,397.9L331.9,403.2L334.3,410.6L334.3,452.1L279.0,452.1L279.0,411.6L282.1,402.1L271.1,401.1L258.4,397.9L250.5,390.4L245.8,380.7L241.0,367.7L230.0,359.0L222.1,352.4L219.7,343.5L222.1,335.7L220.5,330.2Z" fill="#212226"/>
<path d="M233.9,104.6L236.3,106.7L238.7,105.9L241.4,106.7L242.3,105.1L240.3,103.5L242.0,100.8L240.3,98.6L237.9,96.4L236.3,98.6L234.7,100.8Z" fill="#3f3f42"/>
<path d="M258.4,85.4L259.2,79.9L263.2,79.3L265.5,84.0L264.7,87.6L260.8,87.9Z" fill="#3f3f42"/>
<path d="M285.3,54.1L287.7,45.5L292.4,32.5L296.3,20.9L294.0,22.4L288.4,34.0L286.1,44.1Z" fill="#3f3f42"/>
<path d="M312.9,33.4L312.1,22.4L315.3,12.4L321.6,3.8L331.1,2.3L327.9,10.6L324.0,18.0L322.4,25.3L316.1,31.1Z" fill="#3f3f42"/>
<path d="M201.5,68.2L202.3,78.5L211.0,82.1L215.8,87.6L218.9,84.9L222.9,79.3L222.9,75.1L225.2,69.6L225.2,58.9L220.5,56.9L213.4,60.6L211.0,65.4L206.3,63.9Z" fill="#3f3f42"/>
<path d="M200.0,91.7L206.3,95.8L214.2,99.4L218.1,91.7L214.2,89.0L204.7,89.0Z" fill="#3f3f42"/>
<path d="M218.9,89.0L224.5,88.4L223.7,86.2L219.7,86.8Z" fill="#3f3f42"/>
<path d="M370.6,-7.3L376.9,-16.4L389.6,-16.4L395.1,-10.3L386.4,-4.3L378.5,3.2L373.8,4.7L375.3,-2.8Z" fill="#3f3f42"/>
<path d="M375.3,-25.5L381.7,-30.1L389.6,-27.0L386.4,-19.4L378.5,-19.4Z" fill="#3f3f42"/>
<path d="M255.3,334.6L260.0,330.2L258.4,335.7Z" fill="#3f3f42"/>
<path d="M252.1,332.4L254.5,341.3L255.3,343.5L252.9,336.9Z" fill="#3f3f42"/>
<path d="M260.0,341.3L267.9,350.2L264.7,348.0Z" fill="#3f3f42"/>
<path d="M285.3,371.0L293.2,372.1L293.2,373.2L285.3,372.5Z" fill="#3f3f42"/>
<path d="M285.3,374.7L297.9,375.8L296.3,376.4L286.9,376.0Z" fill="#3f3f42"/>
<path d="M290.0,379.2L297.9,380.1L296.3,380.7L290.0,380.1Z" fill="#3f3f42"/>
<path d="M263.2,354.6L269.5,361.2L267.9,360.1Z" fill="#3f3f42"/>
<path d="M299.5,379.6L307.4,382.9L302.7,381.2Z" fill="#3f3f42"/>
<path d="M233.3,-42.9L246.6,-42.2L247.8,-34.2L245.0,-25.9L235.8,-21.7L234.1,-17.5L225.8,-13.4L220.5,-12.2L221.1,-19.2L225.5,-28.9L232.5,-33.9Z" fill="#212226"/>
<path d="M331.1,107.3L336.2,102.7L342.2,98.0L345.3,98.0L340.6,101.3L335.1,105.9Z" fill="#212226"/>
<path d="M350.9,87.6L356.4,86.2L361.1,79.3L361.9,68.2L359.5,68.2L357.2,79.3L351.6,84.9Z" fill="#212226"/>
<path d="M457.5,1.7L461.5,-4.3L460.7,-13.3L457.5,-22.4L463.8,-25.5L468.6,-19.4L467.0,-7.3L462.2,3.2Z" fill="#212226"/>
<path d="M260.3,196.0L253.7,192.2L247.4,196.5L231.6,206.5L220.5,212.6L217.3,210.2L223.7,223.7L230.0,233.4L237.9,243.1L244.2,247.4M244.2,247.4L258.4,251.5L263.2,241.9L271.1,244.3L279.0,247.9L293.2,251.5M293.2,251.5L297.9,245.0L305.0,245.0L312.1,240.7L316.9,234.7L324.0,229.3M297.1,265.7L307.4,271.6L323.2,270.5L324.8,264.6L335.8,261.0L346.9,259.8L358.0,253.9L369.0,256.7L376.1,256.3M376.1,256.3L380.1,246.7L382.6,240.0M293.2,251.5L294.0,259.8L297.1,265.7M297.1,265.7L293.2,272.8L286.9,277.5L286.9,289.1L280.5,292.6M280.5,292.6L288.4,300.7L299.5,312.1L310.6,316.6L323.2,314.4M323.2,314.4L334.3,308.7L346.3,309.8M346.3,309.8L361.1,303.0L365.9,291.4L373.8,277.5L388.0,266.9M376.1,256.3L383.2,263.4L388.0,266.9M388.0,266.9L397.5,266.9L414.8,266.9L424.3,268.1L440.1,265.7L446.4,259.8M446.4,259.8L459.1,275.2L468.6,289.1L471.7,300.7M346.3,309.8L358.0,325.7L365.9,339.1L380.1,343.5L384.8,352.4M384.8,352.4L380.1,361.2L389.6,374.2L381.7,385.0L380.1,393.6M384.8,352.4L394.3,361.2L413.3,363.4L429.1,364.4L444.9,356.8L457.5,354.6L468.6,362.3M323.2,314.4L332.7,330.2L326.4,336.9M275.8,330.2L286.9,330.2L302.7,332.4L318.5,333.5L326.4,336.9M275.8,330.2L280.5,350.2L293.2,361.2L304.2,376.4L318.5,389.3M326.4,336.9L331.1,350.2L335.8,367.7M318.5,389.3L324.8,372.1L335.8,367.7M335.8,367.7L346.9,380.7L337.4,389.3L332.7,402.1M346.9,380.7L358.0,376.4L369.0,385.0L365.9,394.7M350.1,395.7L365.9,394.7L380.1,393.6M241.0,323.4L255.3,323.4L267.9,323.4L274.2,312.1L283.7,300.7M242.6,300.7L255.3,303.0L272.6,296.1L280.5,292.6M242.6,300.7L241.0,312.1L241.0,323.4M192.1,291.4L218.9,286.8L242.6,300.7M177.8,277.5L218.9,275.2L231.6,277.5L230.0,268.1L231.6,258.6L244.2,247.4M358.8,57.7L373.8,48.4L405.4,52.6L421.2,55.5L446.4,68.2M397.5,116.4L413.3,116.2L429.1,109.4L433.8,93.1L446.4,68.2M386.2,105.1L388.0,93.1L373.8,86.2L362.7,80.7M410.9,5.5L425.9,0.2L437.0,6.1L458.3,15.0M446.4,68.2L462.2,65.4L471.7,56.9L465.4,34.0L458.3,15.0M458.3,15.0L462.2,3.2L468.6,-42.5M399.5,180.1L413.3,169.9L429.1,169.9L444.9,171.2L460.7,177.6L476.5,178.8" fill="none" stroke="#2d2d30" stroke-width="0.8"/>
<path d="M250.8,116.7L254.5,116.2L259.7,113.2L264.7,111.1L272.3,108.9L279.0,106.2L285.4,101.8L292.4,97.2L297.9,94.5L303.6,93.1L310.6,91.5L315.9,91.2L317.7,93.1L323.2,97.5L319.3,100.2L319.3,102.4L320.8,104.0L325.6,105.1L333.3,104.6L336.2,102.7L342.2,103.5L348.5,104.0L358.0,105.1L365.9,105.9L373.8,105.6L386.2,105.1L390.4,107.3L395.1,108.9L397.5,113.5L397.5,116.4L399.4,122.9L400.9,128.2L402.2,133.5L404.1,137.4L404.3,144.0L404.1,149.2L399.8,153.1L394.3,157.0L392.3,160.1L395.9,162.2L400.3,165.5L400.3,169.9L399.5,173.5L399.8,178.8L400.6,182.6L402.5,187.7L404.6,192.7L407.7,196.2L405.8,203.0L402.2,207.7L398.7,211.7L392.7,218.1L388.5,222.5L384.8,227.4L384.0,231.0L386.1,237.1L387.4,241.9L382.6,240.0L376.9,238.0L372.2,233.0L367.4,231.5L362.4,231.0L356.4,234.7L351.6,232.2L347.2,231.7L343.7,237.1L339.0,237.1L338.7,232.2L334.3,227.8L331.1,229.3L325.6,229.8L324.0,229.3L323.2,225.4L320.0,223.0L319.7,219.8L315.3,219.5L311.4,216.3L308.2,217.6L305.8,212.6L304.2,213.6L300.3,210.7L294.8,207.2L293.2,211.9L290.0,215.1L288.1,213.9L285.3,211.4L282.8,206.7L285.3,202.7L281.3,201.5L279.0,202.7L275.8,199.2L270.0,197.2L267.1,194.0L263.2,192.7L262.8,196.2L260.3,196.0L262.4,190.2L263.0,189.0L262.7,182.6L258.7,178.8L258.9,175.0L256.8,172.0L258.7,168.6L258.4,164.8L256.1,158.3L257.6,152.1L253.7,150.5L249.7,145.3L249.7,141.4L253.7,134.8L253.7,133.0L251.5,128.2L252.1,122.9L250.8,116.7Z" fill="none" stroke="#2d2d30" stroke-width="0.8"/>
<path d="M252.2,148.4L271.6,141.1L273.7,142.4L276.9,147.4L287.1,142.8L285.5,132.5L291.2,130.7L295.0,122.8L288.6,116.3L290.8,109.9L286.2,101.3L285.4,101.8L279.0,106.2L272.3,108.9L264.7,111.1L259.7,113.2L254.5,116.2L250.8,116.7L252.1,122.9L251.5,128.2L253.7,133.0L253.7,134.8L249.7,141.4L249.7,145.3L252.1,148.4L252.2,148.4Z" fill="#34506e"/>
<path d="M290.8,109.9L288.6,116.3L295.0,122.8L295.3,122.8L301.9,126.9L313.6,124.1L314.4,122.2L329.4,127.5L331.7,118.3L333.7,117.0L328.6,104.9L325.6,105.1L320.8,104.0L319.3,102.4L319.3,100.2L323.2,97.5L317.7,93.1L315.9,91.2L310.6,91.5L303.6,93.1L297.9,94.5L292.4,97.2L286.2,101.3L290.8,109.9Z" fill="#4a7084"/>
<path d="M333.7,117.0L331.7,118.3L329.4,127.5L329.9,128.9L340.0,132.2L340.7,135.2L356.6,136.8L357.7,136.5L358.4,135.1L365.4,132.3L369.9,134.3L381.5,128.5L381.9,128.6L385.6,117.8L382.6,114.1L385.0,105.2L373.8,105.6L365.9,105.9L358.0,105.1L348.5,104.0L342.2,103.5L336.2,102.7L333.3,104.6L328.6,104.9L333.7,117.0Z" fill="#88a8a6"/>
<path d="M382.6,114.1L385.6,117.8L381.9,128.6L381.5,128.5L369.9,134.3L374.5,144.9L374.1,145.7L387.2,156.3L387.6,157.1L388.1,157.1L393.0,159.0L394.3,157.0L399.8,153.1L404.1,149.2L404.3,144.0L404.1,137.4L402.2,133.5L400.9,128.2L399.4,122.9L397.5,116.4L397.5,113.5L395.1,108.9L390.4,107.3L386.2,105.1L385.0,105.2L382.6,114.1Z" fill="#4a7084"/>
<path d="M340.7,135.2L340.0,132.2L329.9,128.9L329.4,127.5L314.4,122.2L313.6,124.1L301.9,126.9L301.9,138.6L301.9,138.6L299.7,140.0L296.9,146.0L296.9,146.1L310.1,151.1L311.8,153.6L320.5,150.4L325.8,157.7L331.6,155.2L334.3,144.8L338.8,143.3L340.7,135.2Z" fill="#c4c9b0"/>
<path d="M331.6,155.2L339.1,160.1L338.9,163.8L350.4,166.5L345.9,174.2L350.1,176.8L350.1,184.1L354.8,186.5L355.0,186.4L367.0,188.1L366.7,180.5L375.4,174.4L375.2,170.7L384.6,165.5L387.3,157.4L387.6,157.1L387.2,156.3L374.1,145.7L374.5,144.9L369.9,134.3L365.4,132.3L358.4,135.1L357.7,136.5L356.6,136.8L340.7,135.2L338.8,143.3L334.3,144.8L331.6,155.2Z" fill="#c4c9b0"/>
<path d="M273.7,142.4L271.6,141.1L252.2,148.4L252.1,148.4L253.7,150.5L257.6,152.1L256.1,158.3L258.4,164.8L258.7,168.6L256.8,172.0L258.9,175.0L258.7,178.8L262.7,182.6L262.7,183.3L265.9,183.4L267.5,182.2L277.4,182.8L278.1,182.0L274.9,173.4L277.3,170.3L275.4,162.6L275.8,162.1L275.8,149.8L276.9,148.0L276.9,147.4L273.7,142.4Z" fill="#6092a0"/>
<path d="M285.5,132.5L287.1,142.8L276.9,147.4L276.9,148.0L275.8,149.8L275.8,162.1L275.4,162.6L277.3,170.3L282.9,171.4L285.8,175.1L294.2,174.8L296.0,175.9L300.7,173.8L307.1,182.1L305.5,185.5L306.7,190.5L307.9,191.1L315.7,188.2L316.5,181.7L315.3,179.9L319.7,169.0L323.4,167.2L323.3,165.2L325.8,157.7L320.5,150.4L311.8,153.6L310.1,151.1L296.9,146.1L296.9,146.0L299.7,140.0L301.9,138.6L301.9,138.6L301.9,126.9L295.3,122.8L295.0,122.8L291.2,130.7L285.5,132.5Z" fill="#c4c9b0"/>
<path d="M323.3,165.2L323.4,167.2L319.7,169.0L315.3,179.9L316.5,181.7L315.7,188.2L320.0,192.6L328.5,186.2L330.4,193.9L335.3,197.7L340.6,189.3L341.2,189.1L343.2,185.4L350.1,184.1L350.1,176.8L345.9,174.2L350.4,166.5L338.9,163.8L339.1,160.1L331.6,155.2L325.8,157.7L323.3,165.2Z" fill="#c4c9b0"/>
<path d="M387.3,157.4L384.6,165.5L375.2,170.7L375.4,174.4L366.7,180.5L367.0,188.1L368.5,190.3L368.9,190.4L372.5,197.6L378.9,199.7L378.9,209.9L379.4,210.3L384.8,209.8L389.3,206.1L397.8,212.6L398.7,211.7L402.2,207.7L405.8,203.0L407.7,196.2L404.6,192.7L402.5,187.7L400.6,182.6L399.8,178.8L399.5,173.5L400.3,169.9L400.3,165.5L395.9,162.2L392.3,160.1L393.0,159.0L388.1,157.1L387.6,157.1L387.3,157.4Z" fill="#6092a0"/>
<path d="M267.5,182.2L265.9,183.4L262.7,183.3L263.0,189.0L262.4,190.2L260.3,196.0L262.8,196.2L263.2,192.7L267.1,194.0L270.0,197.2L275.8,199.2L279.0,202.7L281.3,201.5L285.3,202.7L282.8,206.7L285.3,211.4L288.1,213.9L290.0,215.1L293.2,211.9L294.7,207.4L293.4,199.2L296.0,198.4L300.0,192.9L306.7,190.5L305.5,185.5L307.1,182.1L300.7,173.8L296.0,175.9L294.2,174.8L285.8,175.1L282.9,171.4L277.3,170.3L274.9,173.4L278.1,182.0L277.4,182.8L267.5,182.2Z" fill="#6092a0"/>
<path d="M315.7,188.2L307.9,191.1L306.7,190.5L300.0,192.9L296.0,198.4L293.4,199.2L294.7,207.4L294.8,207.2L300.3,210.7L304.2,213.6L305.8,212.6L308.2,217.6L311.4,216.3L312.8,217.5L313.4,214.8L317.1,211.5L318.2,205.7L315.4,202.9L315.4,199.8L320.2,194.6L320.0,192.6L315.7,188.2Z" fill="#88a8a6"/>
<path d="M315.4,202.9L318.2,205.7L317.1,211.5L313.4,214.8L312.8,217.5L315.3,219.5L319.7,219.8L320.0,223.0L323.2,225.4L324.0,229.3L325.6,229.8L331.1,229.3L332.7,228.6L332.7,222.4L331.6,222.0L327.3,216.6L332.9,211.4L335.8,211.4L339.3,203.2L339.2,202.8L335.3,198.6L335.3,197.7L330.4,193.9L328.5,186.2L320.0,192.6L320.2,194.6L315.4,199.8L315.4,202.9Z" fill="#4a7084"/>
<path d="M355.0,186.4L354.8,186.5L350.1,184.1L343.2,185.4L341.2,189.1L340.6,189.3L335.3,197.7L335.3,198.6L339.2,202.8L339.3,203.2L347.9,207.3L349.7,212.9L358.6,207.4L360.4,208.0L365.1,206.2L365.8,204.4L370.5,202.4L372.5,197.6L368.9,190.4L368.5,190.3L367.0,188.1L355.0,186.4Z" fill="#c4c9b0"/>
<path d="M332.9,211.4L327.3,216.6L331.6,222.0L332.7,222.4L332.7,228.6L334.3,227.8L338.7,232.2L339.0,237.1L343.7,237.1L347.2,231.7L351.6,232.2L356.4,234.7L362.1,231.2L364.7,222.8L364.4,220.6L365.3,219.1L361.6,214.9L360.4,208.0L358.6,207.4L349.7,212.9L347.9,207.3L339.3,203.2L335.8,211.4L332.9,211.4Z" fill="#88a8a6"/>
<path d="M370.5,202.4L365.8,204.4L365.1,206.2L360.4,208.0L361.6,214.9L365.3,219.1L364.4,220.6L364.7,222.8L362.1,231.2L362.4,231.0L367.4,231.5L372.2,233.0L376.9,238.0L382.6,240.0L387.4,241.9L386.1,237.1L384.0,231.0L384.8,227.4L388.5,222.5L392.7,218.1L397.8,212.6L389.3,206.1L384.8,209.8L379.4,210.3L378.9,209.9L378.9,199.7L372.5,197.6L370.5,202.4Z" fill="#88a8a6"/>
<path d="M252.2,148.4L271.6,141.1L273.7,142.4L276.9,147.4L287.1,142.8L285.5,132.5L291.2,130.7L295.0,122.8L288.6,116.3L290.8,109.9L286.2,101.3L285.4,101.8L279.0,106.2L272.3,108.9L264.7,111.1L259.7,113.2L254.5,116.2L250.8,116.7L252.1,122.9L251.5,128.2L253.7,133.0L253.7,134.8L249.7,141.4L249.7,145.3L252.1,148.4L252.2,148.4ZM290.8,109.9L288.6,116.3L295.0,122.8L295.3,122.8L301.9,126.9L313.6,124.1L314.4,122.2L329.4,127.5L331.7,118.3L333.7,117.0L328.6,104.9L325.6,105.1L320.8,104.0L319.3,102.4L319.3,100.2L323.2,97.5L317.7,93.1L315.9,91.2L310.6,91.5L303.6,93.1L297.9,94.5L292.4,97.2L286.2,101.3L290.8,109.9ZM333.7,117.0L331.7,118.3L329.4,127.5L329.9,128.9L340.0,132.2L340.7,135.2L356.6,136.8L357.7,136.5L358.4,135.1L365.4,132.3L369.9,134.3L381.5,128.5L381.9,128.6L385.6,117.8L382.6,114.1L385.0,105.2L373.8,105.6L365.9,105.9L358.0,105.1L348.5,104.0L342.2,103.5L336.2,102.7L333.3,104.6L328.6,104.9L333.7,117.0ZM382.6,114.1L385.6,117.8L381.9,128.6L381.5,128.5L369.9,134.3L374.5,144.9L374.1,145.7L387.2,156.3L387.6,157.1L388.1,157.1L393.0,159.0L394.3,157.0L399.8,153.1L404.1,149.2L404.3,144.0L404.1,137.4L402.2,133.5L400.9,128.2L399.4,122.9L397.5,116.4L397.5,113.5L395.1,108.9L390.4,107.3L386.2,105.1L385.0,105.2L382.6,114.1ZM340.7,135.2L340.0,132.2L329.9,128.9L329.4,127.5L314.4,122.2L313.6,124.1L301.9,126.9L301.9,138.6L301.9,138.6L299.7,140.0L296.9,146.0L296.9,146.1L310.1,151.1L311.8,153.6L320.5,150.4L325.8,157.7L331.6,155.2L334.3,144.8L338.8,143.3L340.7,135.2ZM331.6,155.2L339.1,160.1L338.9,163.8L350.4,166.5L345.9,174.2L350.1,176.8L350.1,184.1L354.8,186.5L355.0,186.4L367.0,188.1L366.7,180.5L375.4,174.4L375.2,170.7L384.6,165.5L387.3,157.4L387.6,157.1L387.2,156.3L374.1,145.7L374.5,144.9L369.9,134.3L365.4,132.3L358.4,135.1L357.7,136.5L356.6,136.8L340.7,135.2L338.8,143.3L334.3,144.8L331.6,155.2ZM273.7,142.4L271.6,141.1L252.2,148.4L252.1,148.4L253.7,150.5L257.6,152.1L256.1,158.3L258.4,164.8L258.7,168.6L256.8,172.0L258.9,175.0L258.7,178.8L262.7,182.6L262.7,183.3L265.9,183.4L267.5,182.2L277.4,182.8L278.1,182.0L274.9,173.4L277.3,170.3L275.4,162.6L275.8,162.1L275.8,149.8L276.9,148.0L276.9,147.4L273.7,142.4ZM285.5,132.5L287.1,142.8L276.9,147.4L276.9,148.0L275.8,149.8L275.8,162.1L275.4,162.6L277.3,170.3L282.9,171.4L285.8,175.1L294.2,174.8L296.0,175.9L300.7,173.8L307.1,182.1L305.5,185.5L306.7,190.5L307.9,191.1L315.7,188.2L316.5,181.7L315.3,179.9L319.7,169.0L323.4,167.2L323.3,165.2L325.8,157.7L320.5,150.4L311.8,153.6L310.1,151.1L296.9,146.1L296.9,146.0L299.7,140.0L301.9,138.6L301.9,138.6L301.9,126.9L295.3,122.8L295.0,122.8L291.2,130.7L285.5,132.5ZM323.3,165.2L323.4,167.2L319.7,169.0L315.3,179.9L316.5,181.7L315.7,188.2L320.0,192.6L328.5,186.2L330.4,193.9L335.3,197.7L340.6,189.3L341.2,189.1L343.2,185.4L350.1,184.1L350.1,176.8L345.9,174.2L350.4,166.5L338.9,163.8L339.1,160.1L331.6,155.2L325.8,157.7L323.3,165.2ZM387.3,157.4L384.6,165.5L375.2,170.7L375.4,174.4L366.7,180.5L367.0,188.1L368.5,190.3L368.9,190.4L372.5,197.6L378.9,199.7L378.9,209.9L379.4,210.3L384.8,209.8L389.3,206.1L397.8,212.6L398.7,211.7L402.2,207.7L405.8,203.0L407.7,196.2L404.6,192.7L402.5,187.7L400.6,182.6L399.8,178.8L399.5,173.5L400.3,169.9L400.3,165.5L395.9,162.2L392.3,160.1L393.0,159.0L388.1,157.1L387.6,157.1L387.3,157.4ZM267.5,182.2L265.9,183.4L262.7,183.3L263.0,189.0L262.4,190.2L260.3,196.0L262.8,196.2L263.2,192.7L267.1,194.0L270.0,197.2L275.8,199.2L279.0,202.7L281.3,201.5L285.3,202.7L282.8,206.7L285.3,211.4L288.1,213.9L290.0,215.1L293.2,211.9L294.7,207.4L293.4,199.2L296.0,198.4L300.0,192.9L306.7,190.5L305.5,185.5L307.1,182.1L300.7,173.8L296.0,175.9L294.2,174.8L285.8,175.1L282.9,171.4L277.3,170.3L274.9,173.4L278.1,182.0L277.4,182.8L267.5,182.2ZM315.7,188.2L307.9,191.1L306.7,190.5L300.0,192.9L296.0,198.4L293.4,199.2L294.7,207.4L294.8,207.2L300.3,210.7L304.2,213.6L305.8,212.6L308.2,217.6L311.4,216.3L312.8,217.5L313.4,214.8L317.1,211.5L318.2,205.7L315.4,202.9L315.4,199.8L320.2,194.6L320.0,192.6L315.7,188.2ZM315.4,202.9L318.2,205.7L317.1,211.5L313.4,214.8L312.8,217.5L315.3,219.5L319.7,219.8L320.0,223.0L323.2,225.4L324.0,229.3L325.6,229.8L331.1,229.3L332.7,228.6L332.7,222.4L331.6,222.0L327.3,216.6L332.9,211.4L335.8,211.4L339.3,203.2L339.2,202.8L335.3,198.6L335.3,197.7L330.4,193.9L328.5,186.2L320.0,192.6L320.2,194.6L315.4,199.8L315.4,202.9ZM355.0,186.4L354.8,186.5L350.1,184.1L343.2,185.4L341.2,189.1L340.6,189.3L335.3,197.7L335.3,198.6L339.2,202.8L339.3,203.2L347.9,207.3L349.7,212.9L358.6,207.4L360.4,208.0L365.1,206.2L365.8,204.4L370.5,202.4L372.5,197.6L368.9,190.4L368.5,190.3L367.0,188.1L355.0,186.4ZM332.9,211.4L327.3,216.6L331.6,222.0L332.7,222.4L332.7,228.6L334.3,227.8L338.7,232.2L339.0,237.1L343.7,237.1L347.2,231.7L351.6,232.2L356.4,234.7L362.1,231.2L364.7,222.8L364.4,220.6L365.3,219.1L361.6,214.9L360.4,208.0L358.6,207.4L349.7,212.9L347.9,207.3L339.3,203.2L335.8,211.4L332.9,211.4ZM370.5,202.4L365.8,204.4L365.1,206.2L360.4,208.0L361.6,214.9L365.3,219.1L364.4,220.6L364.7,222.8L362.1,231.2L362.4,231.0L367.4,231.5L372.2,233.0L376.9,238.0L382.6,240.0L387.4,241.9L386.1,237.1L384.0,231.0L384.8,227.4L388.5,222.5L392.7,218.1L397.8,212.6L389.3,206.1L384.8,209.8L379.4,210.3L378.9,209.9L378.9,199.7L372.5,197.6L370.5,202.4Z" fill="none" stroke="#9fb0b4" stroke-opacity="0.45" stroke-width="0.6"/>
<circle cx="272" cy="123.7" r="11" fill="#7e3a20" fill-opacity="0.96" stroke="#7e3a20" stroke-opacity="0.5" stroke-width="0.6"/>
<circle cx="310.5" cy="108.3" r="6" fill="#8e4424" fill-opacity="0.96" stroke="#8e4424" stroke-opacity="0.5" stroke-width="0.6"/>
<circle cx="356.3" cy="116.7" r="5.5" fill="#e6ce90" fill-opacity="0.96" stroke="#e6ce90" stroke-opacity="0.5" stroke-width="0.6"/>
<circle cx="390" cy="132" r="7.5" fill="#8e4424" fill-opacity="0.96" stroke="#8e4424" stroke-opacity="0.5" stroke-width="0.6"/>
<circle cx="268.3" cy="160" r="9.5" fill="#b06430" fill-opacity="0.96" stroke="#b06430" stroke-opacity="0.5" stroke-width="0.6"/>
<circle cx="298.7" cy="156.7" r="5" fill="#ececc8" fill-opacity="0.96" stroke="#ececc8" stroke-opacity="0.5" stroke-width="0.6"/>
<circle cx="318.8" cy="138" r="5" fill="#ececc8" fill-opacity="0.96" stroke="#ececc8" stroke-opacity="0.5" stroke-width="0.6"/>
<circle cx="360.5" cy="155" r="5" fill="#ececc8" fill-opacity="0.96" stroke="#ececc8" stroke-opacity="0.5" stroke-width="0.6"/>
<circle cx="333.7" cy="175.8" r="5" fill="#ececc8" fill-opacity="0.96" stroke="#ececc8" stroke-opacity="0.5" stroke-width="0.6"/>
<circle cx="389" cy="185.8" r="8.3" fill="#d89c50" fill-opacity="0.96" stroke="#d89c50" stroke-opacity="0.5" stroke-width="0.6"/>
<circle cx="285.5" cy="189" r="8.3" fill="#b06430" fill-opacity="0.96" stroke="#b06430" stroke-opacity="0.5" stroke-width="0.6"/>
<circle cx="309" cy="200" r="5.5" fill="#e6b672" fill-opacity="0.96" stroke="#e6b672" stroke-opacity="0.5" stroke-width="0.6"/>
<circle cx="326.7" cy="207.5" r="17" fill="#8a4424" fill-opacity="0.96" stroke="#8a4424" stroke-opacity="0.5" stroke-width="0.6"/>
<circle cx="355" cy="197.5" r="5" fill="#ececc8" fill-opacity="0.96" stroke="#ececc8" stroke-opacity="0.5" stroke-width="0.6"/>
<circle cx="347" cy="220" r="5.5" fill="#eae6c0" fill-opacity="0.96" stroke="#eae6c0" stroke-opacity="0.5" stroke-width="0.6"/>
<circle cx="377.5" cy="218" r="6" fill="#e2ae62" fill-opacity="0.96" stroke="#e2ae62" stroke-opacity="0.5" stroke-width="0.6"/>
<text x="404.8" y="78.7" class="cl">LITHUANIA</text>
<text x="363.8" y="96.9" class="cl">RUSSIA</text>
<text x="466.8" y="139.7" class="cl">BELARUS</text>
<text x="331.4" y="153.1" class="cl" style="stroke:none;fill:#eef2f2;opacity:0.42;letter-spacing:2.2px">POLAND</text>
<text x="274.0" y="224.5" class="cl">CZECH</text>
<text x="274.4" y="233.1" class="cl">REPUBLIC</text>
<text x="334.4" y="251.2" class="cl">SLOVAKIA</text>
<text x="248.8" y="285.7" class="cl">AUSTRIA</text>
<text x="328.8" y="295.7" class="cl">HUNGARY</text>
<text x="479.8" y="280.7" class="cl">MOLDOVA</text>
<text x="487.8" y="202.7" class="cl">UKRAINE</text>
<text x="426.8" y="97.4" class="ct">Vilnius</text>
<text x="464.8" y="120.4" class="ct">Minsk</text>
<text x="236.8" y="158.4" class="ct">Berlin</text>
<text x="357.8" y="164.4" class="ct">Warsaw</text>
<text x="253.3" y="220.0" class="ct">Prague</text>
<text x="406.4" y="225.9" class="ct" style="font-size:8.6px">Lviv</text>
<text x="327.3" y="216.4" class="ct" style="font-size:8.6px">Katowice</text>
<text x="197.8" y="234.9" class="ct" style="font-size:8.6px">Nuremberg</text>
<text x="206.8" y="270.9" class="ct" style="font-size:8.6px">Munich</text>
<text x="282.6" y="263.0" class="ct">Vienna</text>
<text x="298.6" y="270.4" class="ct">Bratislava</text>
<text x="327.8" y="282.4" class="ct">Budapest</text>
<path d="M248.75,265H319.4M248.75,263V267M319.4,263V265" stroke="#6a6a60" stroke-width="0.8" fill="none" opacity="0.8"/>
<text x="321" y="261" class="sb">300km</text>
<text x="325.5" y="275" class="sb">200mi</text>
</g></svg>
<div class="tb" style="left:393px;top:90px"><svg width="46" height="22" viewBox="0 0 46 22"><circle cx="11" cy="9.2" r="4" fill="none" stroke="#e8e8e8" stroke-width="1.4"/><path d="M13.9,12.1L17.4,15.6" stroke="#e8e8e8" stroke-width="1.5" stroke-linecap="round"/><rect x="29.7" y="10" width="1.8" height="1.8" fill="#ddd"/><rect x="34.1" y="10" width="1.8" height="1.8" fill="#ddd"/><rect x="38.5" y="10" width="1.8" height="1.8" fill="#ddd"/></svg></div>
<div class="zm" style="left:419px;top:229px"><svg width="20" height="39" viewBox="0 0 20 39"><path d="M6,10.2H14.5M10.2,6V14.5M6,28.8H14.5" stroke="#e0e0e0" stroke-width="1.5"/></svg></div>
<div class="attr" style="left:342px;top:272.3px;width:96px">Esri, HERE | Esri, HE...</div>
<svg class="map" style="left:453px;top:85px;width:258px;height:448px" viewBox="453 85 258 448">
<defs><clipPath id="c453"><rect x="453" y="85" width="258" height="448"/></clipPath></defs>
<g clip-path="url(#c453)">
<rect x="453" y="85" width="258" height="448" fill="#3f3f42"/>
<path d="M415.6,63.2L450.3,69.5L448.7,97.6L450.3,112.8L451.9,124.9L454.3,133.9L459.8,142.7L463.0,150.1L466.9,157.4L470.9,163.2L475.6,169.8L476.4,176.1L472.4,176.1L470.1,180.4L473.2,183.3L474.0,187.5L477.2,193.1L478.8,200.2L477.2,205.7L481.9,207.1L491.4,205.2L497.7,205.7L500.1,201.6L497.7,193.1L500.9,188.9L505.6,184.7L515.1,184.7L519.8,184.7L526.2,183.3L530.9,174.7L532.5,167.5L534.1,157.4L535.6,145.7L536.4,133.9L537.2,124.9L532.5,117.4L540.4,115.9L546.7,109.8L554.6,106.8L557.8,102.2L562.5,94.5L568.8,91.4L575.1,78.9L570.4,66.3L573.6,50.4L605.2,50.4L621.0,69.5L636.8,72.7L652.6,66.3L668.4,63.2L684.2,56.8L700.0,53.6L723.7,50.4L723.7,82.1L715.8,86.7L700.0,86.7L684.2,82.1L668.4,85.2L660.5,86.7L652.6,89.8L644.7,92.9L643.1,102.2L646.2,109.8L644.7,115.9L649.4,120.4L657.3,120.4L660.5,121.9L658.1,133.9L658.9,145.7L657.3,155.9L654.1,159.4L646.2,160.3L639.9,157.4L635.2,145.7L630.4,138.3L622.5,142.7L616.2,145.7L611.5,153.0L606.7,166.1L605.2,174.7L606.0,188.9L606.7,197.4L607.5,205.7L603.6,211.3L598.1,217.6L590.9,218.2L588.6,218.2L587.8,226.4L583.4,231.9L580.5,233.8L572.8,234.3L568.0,233.2L566.5,231.6L566.5,229.4L570.4,226.7L564.9,222.3L563.1,220.4L557.8,220.7L550.8,222.3L545.1,223.7L539.6,226.4L532.6,231.0L526.2,235.4L519.5,238.1L511.9,240.3L506.9,242.4L501.7,245.4L498.0,245.9L494.6,243.5L491.4,240.8L490.6,239.4L488.2,240.0L485.9,241.3L483.5,238.6L481.1,236.5L480.3,235.9L477.2,232.7L470.9,231.0L464.5,239.2L455.1,244.0L447.2,242.7L415.6,230.5Z" fill="#212226"/>
<path d="M467.7,452.6L472.4,451.5L480.3,447.0L488.2,445.8L490.6,450.4L487.5,453.7L488.2,461.6L493.0,468.3L496.1,461.6L499.3,457.1L502.5,457.1L508.8,462.7L513.5,472.7L515.1,481.6L519.8,486.0L524.6,492.6L532.5,496.9L542.0,500.2L549.9,506.7L557.8,514.2L565.7,519.6L570.4,522.8L575.1,527.1L579.1,532.4L581.5,539.8L581.5,581.3L526.2,581.3L526.2,540.8L529.3,531.3L518.3,530.3L505.6,527.1L497.7,519.6L493.0,509.9L488.2,496.9L477.2,488.2L469.3,481.6L466.9,472.7L469.3,464.9L467.7,459.4Z" fill="#212226"/>
<path d="M481.1,233.8L483.5,235.9L485.9,235.1L488.6,235.9L489.5,234.3L487.5,232.7L489.2,230.0L487.5,227.8L485.1,225.6L483.5,227.8L481.9,230.0Z" fill="#3f3f42"/>
<path d="M505.6,214.6L506.4,209.1L510.4,208.5L512.7,213.2L511.9,216.8L508.0,217.1Z" fill="#3f3f42"/>
<path d="M532.5,183.3L534.9,174.7L539.6,161.7L543.5,150.1L541.2,151.6L535.6,163.2L533.3,173.3Z" fill="#3f3f42"/>
<path d="M560.1,162.6L559.3,151.6L562.5,141.6L568.8,133.0L578.3,131.5L575.1,139.8L571.2,147.2L569.6,154.5L563.3,160.3Z" fill="#3f3f42"/>
<path d="M448.7,197.4L449.5,207.7L458.2,211.3L463.0,216.8L466.1,214.1L470.1,208.5L470.1,204.3L472.4,198.8L472.4,188.1L467.7,186.1L460.6,189.8L458.2,194.6L453.5,193.1Z" fill="#3f3f42"/>
<path d="M447.2,220.9L453.5,225.0L461.4,228.6L465.3,220.9L461.4,218.2L451.9,218.2Z" fill="#3f3f42"/>
<path d="M466.1,218.2L471.7,217.6L470.9,215.4L466.9,216.0Z" fill="#3f3f42"/>
<path d="M617.8,121.9L624.1,112.8L636.8,112.8L642.3,118.9L633.6,124.9L625.7,132.4L621.0,133.9L622.5,126.4Z" fill="#3f3f42"/>
<path d="M622.5,103.7L628.9,99.1L636.8,102.2L633.6,109.8L625.7,109.8Z" fill="#3f3f42"/>
<path d="M502.5,463.8L507.2,459.4L505.6,464.9Z" fill="#3f3f42"/>
<path d="M499.3,461.6L501.7,470.5L502.5,472.7L500.1,466.1Z" fill="#3f3f42"/>
<path d="M507.2,470.5L515.1,479.4L511.9,477.2Z" fill="#3f3f42"/>
<path d="M532.5,500.2L540.4,501.3L540.4,502.4L532.5,501.7Z" fill="#3f3f42"/>
<path d="M532.5,503.9L545.1,505.0L543.5,505.6L534.1,505.2Z" fill="#3f3f42"/>
<path d="M537.2,508.4L545.1,509.3L543.5,509.9L537.2,509.3Z" fill="#3f3f42"/>
<path d="M510.4,483.8L516.7,490.4L515.1,489.3Z" fill="#3f3f42"/>
<path d="M546.7,508.8L554.6,512.1L549.9,510.4Z" fill="#3f3f42"/>
<path d="M480.5,86.3L493.8,87.0L495.0,95.0L492.2,103.3L483.0,107.5L481.3,111.7L473.0,115.8L467.7,117.0L468.3,110.0L472.7,100.3L479.7,95.3Z" fill="#212226"/>
<path d="M578.3,236.5L583.4,231.9L589.4,227.2L592.5,227.2L587.8,230.5L582.3,235.1Z" fill="#212226"/>
<path d="M598.1,216.8L603.6,215.4L608.3,208.5L609.1,197.4L606.7,197.4L604.4,208.5L598.8,214.1Z" fill="#212226"/>
<path d="M704.7,130.9L708.7,124.9L707.9,115.9L704.7,106.8L711.0,103.7L715.8,109.8L714.2,121.9L709.4,132.4Z" fill="#212226"/>
<path d="M507.5,325.2L500.9,321.4L494.6,325.7L478.8,335.7L467.7,341.8L464.5,339.4L470.9,352.9L477.2,362.6L485.1,372.3L491.4,376.6M491.4,376.6L505.6,380.7L510.4,371.1L518.3,373.5L526.2,377.1L540.4,380.7M540.4,380.7L545.1,374.2L552.2,374.2L559.3,369.9L564.1,363.9L571.2,358.5M544.3,394.9L554.6,400.8L570.4,399.7L572.0,393.8L583.0,390.2L594.1,389.0L605.2,383.1L616.2,385.9L623.3,385.5M623.3,385.5L627.3,375.9L629.8,369.2M540.4,380.7L541.2,389.0L544.3,394.9M544.3,394.9L540.4,402.0L534.1,406.7L534.1,418.3L527.7,421.8M527.7,421.8L535.6,429.9L546.7,441.3L557.8,445.8L570.4,443.6M570.4,443.6L581.5,437.9L593.5,439.0M593.5,439.0L608.3,432.2L613.1,420.6L621.0,406.7L635.2,396.1M623.3,385.5L630.4,392.6L635.2,396.1M635.2,396.1L644.7,396.1L662.0,396.1L671.5,397.3L687.3,394.9L693.6,389.0M693.6,389.0L706.3,404.4L715.8,418.3L718.9,429.9M593.5,439.0L605.2,454.9L613.1,468.3L627.3,472.7L632.0,481.6M632.0,481.6L627.3,490.4L636.8,503.4L628.9,514.2L627.3,522.8M632.0,481.6L641.5,490.4L660.5,492.6L676.3,493.6L692.1,486.0L704.7,483.8L715.8,491.5M570.4,443.6L579.9,459.4L573.6,466.1M523.0,459.4L534.1,459.4L549.9,461.6L565.7,462.7L573.6,466.1M523.0,459.4L527.7,479.4L540.4,490.4L551.4,505.6L565.7,518.5M573.6,466.1L578.3,479.4L583.0,496.9M565.7,518.5L572.0,501.3L583.0,496.9M583.0,496.9L594.1,509.9L584.6,518.5L579.9,531.3M594.1,509.9L605.2,505.6L616.2,514.2L613.1,523.9M597.3,524.9L613.1,523.9L627.3,522.8M488.2,452.6L502.5,452.6L515.1,452.6L521.4,441.3L530.9,429.9M489.8,429.9L502.5,432.2L519.8,425.3L527.7,421.8M489.8,429.9L488.2,441.3L488.2,452.6M439.3,420.6L466.1,416.0L489.8,429.9M425.0,406.7L466.1,404.4L478.8,406.7L477.2,397.3L478.8,387.8L491.4,376.6M606.0,186.9L621.0,177.6L652.6,181.8L668.4,184.7L693.6,197.4M644.7,245.6L660.5,245.4L676.3,238.6L681.0,222.3L693.6,197.4M633.4,234.3L635.2,222.3L621.0,215.4L609.9,209.9M658.1,134.7L673.1,129.4L684.2,135.3L705.5,144.2M693.6,197.4L709.4,194.6L718.9,186.1L712.6,163.2L705.5,144.2M705.5,144.2L709.4,132.4L715.8,86.7M646.7,309.3L660.5,299.1L676.3,299.1L692.1,300.4L707.9,306.8L723.7,308.0" fill="none" stroke="#2d2d30" stroke-width="0.8"/>
<path d="M498.0,245.9L501.7,245.4L506.9,242.4L511.9,240.3L519.5,238.1L526.2,235.4L532.6,231.0L539.6,226.4L545.1,223.7L550.8,222.3L557.8,220.7L563.1,220.4L564.9,222.3L570.4,226.7L566.5,229.4L566.5,231.6L568.0,233.2L572.8,234.3L580.5,233.8L583.4,231.9L589.4,232.7L595.7,233.2L605.2,234.3L613.1,235.1L621.0,234.8L633.4,234.3L637.6,236.5L642.3,238.1L644.7,242.7L644.7,245.6L646.6,252.1L648.1,257.4L649.4,262.7L651.3,266.6L651.5,273.2L651.3,278.4L647.0,282.3L641.5,286.2L639.5,289.3L643.1,291.4L647.5,294.7L647.5,299.1L646.7,302.7L647.0,308.0L647.8,311.8L649.7,316.9L651.8,321.9L654.9,325.4L653.0,332.2L649.4,336.9L645.9,340.9L639.9,347.3L635.7,351.7L632.0,356.6L631.2,360.2L633.3,366.3L634.6,371.1L629.8,369.2L624.1,367.2L619.4,362.2L614.6,360.7L609.6,360.2L603.6,363.9L598.8,361.4L594.4,360.9L590.9,366.3L586.2,366.3L585.9,361.4L581.5,357.0L578.3,358.5L572.8,359.0L571.2,358.5L570.4,354.6L567.2,352.2L566.9,349.0L562.5,348.7L558.6,345.5L555.4,346.8L553.0,341.8L551.4,342.8L547.5,339.9L542.0,336.4L540.4,341.1L537.2,344.3L535.3,343.1L532.5,340.6L530.0,335.9L532.5,331.9L528.5,330.7L526.2,331.9L523.0,328.4L517.2,326.4L514.3,323.2L510.4,321.9L510.0,325.4L507.5,325.2L509.6,319.4L510.2,318.2L509.9,311.8L505.9,308.0L506.1,304.2L504.0,301.2L505.9,297.8L505.6,294.0L503.3,287.5L504.8,281.3L500.9,279.7L496.9,274.5L496.9,270.6L500.9,264.0L500.9,262.2L498.7,257.4L499.3,252.1L498.0,245.9Z" fill="none" stroke="#2d2d30" stroke-width="0.8"/>
<text x="684.0" y="161.9" class="cl">LATVIA</text>
<text x="652.0" y="207.9" class="cl">LITHUANIA</text>
<text x="611.0" y="226.1" class="cl">RUSSIA</text>
<text x="714.0" y="268.9" class="cl">BELARUS</text>
<text x="578.6" y="281.5" class="cl" style="letter-spacing:2.2px">POLAND</text>
<text x="521.2" y="353.7" class="cl">CZECH</text>
<text x="521.6" y="362.3" class="cl">REPUBLIC</text>
<text x="581.6" y="380.4" class="cl">SLOVAKIA</text>
<text x="496.0" y="414.9" class="cl">AUSTRIA</text>
<text x="576.0" y="424.9" class="cl">HUNGARY</text>
<text x="504.8" y="438.9" class="cl">SLOVENIA</text>
<text x="667.8" y="444.3" class="cl">ROMANIA</text>
<text x="504.0" y="465.9" class="cl">CROATIA</text>
<text x="554.4" y="477.9" class="cl">BOSNIA AND</text>
<text x="554.4" y="486.5" class="cl">HERZEGOVINA</text>
<text x="610.5" y="494.7" class="cl">SERBIA</text>
<text x="462.0" y="513.9" class="cl">ITALY</text>
<text x="681.6" y="515.4" class="cl">BULGARIA</text>
<text x="727.0" y="409.9" class="cl">MOLDOVA</text>
<text x="735.0" y="331.9" class="cl">UKRAINE</text>
<text x="576.0" y="173.0" class="wl">Baltic Sea</text>
<text x="524.0" y="521.7" class="wl">Adriatic Sea</text>
<text x="557.0" y="93.1" class="ct">Stockholm</text>
<text x="664.0" y="88.6" class="ct">Tallinn</text>
<text x="655.0" y="164.6" class="ct">Riga</text>
<text x="674.0" y="226.6" class="ct">Vilnius</text>
<text x="712.0" y="249.6" class="ct">Minsk</text>
<text x="471.0" y="201.6" class="ct">Copenhagen</text>
<text x="484.0" y="287.6" class="ct">Berlin</text>
<text x="605.0" y="293.6" class="ct">Warsaw</text>
<text x="500.5" y="349.2" class="ct">Prague</text>
<text x="653.6" y="355.1" class="ct" style="font-size:8.6px">Lviv</text>
<text x="574.5" y="345.6" class="ct" style="font-size:8.6px">Katowice</text>
<text x="445.0" y="364.1" class="ct" style="font-size:8.6px">Nuremberg</text>
<text x="454.0" y="400.1" class="ct" style="font-size:8.6px">Munich</text>
<text x="529.8" y="392.2" class="ct">Vienna</text>
<text x="545.8" y="399.6" class="ct">Bratislava</text>
<text x="575.0" y="411.6" class="ct">Budapest</text>
<text x="499.0" y="444.1" class="ct">Ljubljana</text>
<text x="525.5" y="454.6" class="ct">Zagreb</text>
<text x="596.7" y="472.0" class="ct">Belgrade</text>
<text x="686.0" y="482.3" class="ct">Bucharest</text>
<text x="564.3" y="495.6" class="ct">Sarajevo</text>
<text x="610.5" y="519.4" class="ct">Pristina</text>
<text x="642.8" y="520.3" class="ct">Sofia</text>
<text x="577.2" y="528.9" class="ct">Podgorica</text>
<text x="613.0" y="539.6" class="ct">Skopje</text>
<circle cx="496.9" cy="244.6" r="3.55" fill="#b60404" stroke="#333" stroke-opacity="0.5" stroke-width="0.5"/>
<circle cx="499.1" cy="252.7" r="3.55" fill="#b60404" stroke="#333" stroke-opacity="0.5" stroke-width="0.5"/>
<circle cx="500.6" cy="262.3" r="3.55" fill="#b60404" stroke="#333" stroke-opacity="0.5" stroke-width="0.5"/>
<circle cx="499.1" cy="268.2" r="3.55" fill="#ebe900" stroke="#333" stroke-opacity="0.5" stroke-width="0.5"/>
<circle cx="495.4" cy="272.7" r="3.55" fill="#b60404" stroke="#333" stroke-opacity="0.5" stroke-width="0.5"/>
<circle cx="499.1" cy="275.6" r="3.55" fill="#b60404" stroke="#333" stroke-opacity="0.5" stroke-width="0.5"/>
<circle cx="503.5" cy="280.1" r="3.55" fill="#ebe900" stroke="#333" stroke-opacity="0.5" stroke-width="0.5"/>
<circle cx="586.1" cy="232.0" r="3.55" fill="#b60404" stroke="#333" stroke-opacity="0.5" stroke-width="0.5"/>
<circle cx="590.5" cy="230.5" r="3.55" fill="#6fae1c" stroke="#333" stroke-opacity="0.5" stroke-width="0.5"/>
<circle cx="600.2" cy="232.0" r="3.55" fill="#6fae1c" stroke="#333" stroke-opacity="0.5" stroke-width="0.5"/>
<circle cx="626.1" cy="233.5" r="3.55" fill="#b60404" stroke="#333" stroke-opacity="0.5" stroke-width="0.5"/>
<circle cx="639.4" cy="233.5" r="3.55" fill="#ebe900" stroke="#333" stroke-opacity="0.5" stroke-width="0.5"/>
<circle cx="645.3" cy="238.6" r="3.55" fill="#ebe900" stroke="#333" stroke-opacity="0.5" stroke-width="0.5"/>
<circle cx="647.5" cy="254.9" r="3.55" fill="#6fae1c" stroke="#333" stroke-opacity="0.5" stroke-width="0.5"/>
<circle cx="652.0" cy="265.3" r="3.55" fill="#6fae1c" stroke="#333" stroke-opacity="0.5" stroke-width="0.5"/>
<circle cx="643.1" cy="283.0" r="3.55" fill="#b60404" stroke="#333" stroke-opacity="0.5" stroke-width="0.5"/>
<circle cx="646.8" cy="290.4" r="3.55" fill="#6fae1c" stroke="#333" stroke-opacity="0.5" stroke-width="0.5"/>
<circle cx="505.0" cy="294.6" r="3.55" fill="#b60404" stroke="#333" stroke-opacity="0.5" stroke-width="0.5"/>
<circle cx="503.5" cy="300.5" r="3.55" fill="#b60404" stroke="#333" stroke-opacity="0.5" stroke-width="0.5"/>
<circle cx="506.5" cy="305.0" r="3.55" fill="#ebe900" stroke="#333" stroke-opacity="0.5" stroke-width="0.5"/>
<circle cx="505.0" cy="308.0" r="3.55" fill="#b60404" stroke="#333" stroke-opacity="0.5" stroke-width="0.5"/>
<circle cx="509.5" cy="312.4" r="3.55" fill="#b60404" stroke="#333" stroke-opacity="0.5" stroke-width="0.5"/>
<circle cx="508.7" cy="316.8" r="3.55" fill="#b60404" stroke="#333" stroke-opacity="0.5" stroke-width="0.5"/>
<circle cx="511.0" cy="320.5" r="3.55" fill="#b60404" stroke="#333" stroke-opacity="0.5" stroke-width="0.5"/>
<circle cx="506.5" cy="324.2" r="3.55" fill="#b60404" stroke="#333" stroke-opacity="0.5" stroke-width="0.5"/>
<circle cx="515.4" cy="325.7" r="3.55" fill="#ebe900" stroke="#333" stroke-opacity="0.5" stroke-width="0.5"/>
<circle cx="524.3" cy="330.1" r="3.55" fill="#ebe900" stroke="#333" stroke-opacity="0.5" stroke-width="0.5"/>
<circle cx="532.4" cy="332.4" r="3.55" fill="#b60404" stroke="#333" stroke-opacity="0.5" stroke-width="0.5"/>
<circle cx="528.0" cy="336.1" r="3.55" fill="#ebe900" stroke="#333" stroke-opacity="0.5" stroke-width="0.5"/>
<circle cx="536.8" cy="343.5" r="3.55" fill="#b60404" stroke="#333" stroke-opacity="0.5" stroke-width="0.5"/>
<circle cx="548.0" cy="339.0" r="3.55" fill="#ebe900" stroke="#333" stroke-opacity="0.5" stroke-width="0.5"/>
<circle cx="551.6" cy="339.8" r="3.55" fill="#ebe900" stroke="#333" stroke-opacity="0.5" stroke-width="0.5"/>
<circle cx="553.1" cy="344.2" r="3.55" fill="#b60404" stroke="#333" stroke-opacity="0.5" stroke-width="0.5"/>
<circle cx="560.5" cy="350.1" r="3.55" fill="#ebe900" stroke="#333" stroke-opacity="0.5" stroke-width="0.5"/>
<circle cx="566.4" cy="353.1" r="3.55" fill="#ebe900" stroke="#333" stroke-opacity="0.5" stroke-width="0.5"/>
<circle cx="572.4" cy="358.3" r="3.55" fill="#b60404" stroke="#333" stroke-opacity="0.5" stroke-width="0.5"/>
<circle cx="647.5" cy="301.3" r="3.55" fill="#b60404" stroke="#333" stroke-opacity="0.5" stroke-width="0.5"/>
<circle cx="651.2" cy="316.1" r="3.55" fill="#6fae1c" stroke="#333" stroke-opacity="0.5" stroke-width="0.5"/>
<circle cx="654.2" cy="324.2" r="3.55" fill="#b60404" stroke="#333" stroke-opacity="0.5" stroke-width="0.5"/>
<circle cx="654.9" cy="331.6" r="3.55" fill="#6fae1c" stroke="#333" stroke-opacity="0.5" stroke-width="0.5"/>
<circle cx="647.5" cy="339.0" r="3.55" fill="#6fae1c" stroke="#333" stroke-opacity="0.5" stroke-width="0.5"/>
<circle cx="642.3" cy="342.7" r="3.55" fill="#b60404" stroke="#333" stroke-opacity="0.5" stroke-width="0.5"/>
<circle cx="639.4" cy="346.4" r="3.55" fill="#6fae1c" stroke="#333" stroke-opacity="0.5" stroke-width="0.5"/>
<circle cx="637.2" cy="350.1" r="3.55" fill="#b60404" stroke="#333" stroke-opacity="0.5" stroke-width="0.5"/>
<circle cx="632.7" cy="359.0" r="3.55" fill="#b60404" stroke="#333" stroke-opacity="0.5" stroke-width="0.5"/>
<circle cx="617.2" cy="360.5" r="3.55" fill="#ebe900" stroke="#333" stroke-opacity="0.5" stroke-width="0.5"/>
<circle cx="583.9" cy="361.2" r="3.55" fill="#ebe900" stroke="#333" stroke-opacity="0.5" stroke-width="0.5"/>
<circle cx="592.8" cy="362.7" r="3.55" fill="#b60404" stroke="#333" stroke-opacity="0.5" stroke-width="0.5"/>
<use href="#mkb" x="553.9" y="227.5"/>
<use href="#mkb" x="561.3" y="225.3"/>
<use href="#mko" x="567.2" y="231.2"/>
<use href="#mkb" x="529.4" y="236.4"/>
<use href="#mkb" x="525.0" y="242.3"/>
<use href="#mkb" x="549.4" y="237.9"/>
<use href="#mkb" x="565.7" y="243.1"/>
<use href="#mkb" x="573.8" y="245.3"/>
<use href="#mkb" x="576.8" y="249.7"/>
<use href="#mkb" x="522.8" y="254.9"/>
<use href="#mkb" x="548.0" y="251.7"/>
<use href="#mkb" x="570.1" y="257.1"/>
<use href="#mkb" x="502.1" y="257.9"/>
<use href="#mkw" x="510.2" y="260.8"/>
<use href="#mkw" x="516.9" y="265.3"/>
<use href="#mkb" x="557.6" y="266.0"/>
<use href="#mkb" x="567.2" y="268.2"/>
<use href="#mkb" x="534.6" y="272.0"/>
<use href="#mkb" x="545.0" y="274.2"/>
<use href="#mko" x="561.3" y="275.6"/>
<use href="#mkb" x="573.8" y="278.6"/>
<use href="#mkb" x="513.9" y="274.9"/>
<use href="#mkb" x="523.5" y="279.3"/>
<use href="#mkb" x="502.8" y="286.0"/>
<use href="#mkb" x="518.3" y="284.5"/>
<use href="#mkb" x="528.0" y="286.0"/>
<use href="#mkb" x="540.5" y="284.5"/>
<use href="#mkb" x="556.1" y="287.5"/>
<use href="#mkb" x="562.0" y="289.0"/>
<use href="#mkb" x="519.0" y="290.4"/>
<use href="#mkb" x="584.6" y="240.9"/>
<use href="#mkb" x="589.1" y="251.2"/>
<use href="#mkw" x="597.9" y="249.0"/>
<use href="#mkb" x="611.3" y="240.9"/>
<use href="#mkb" x="637.2" y="239.4"/>
<use href="#mkw" x="626.8" y="248.3"/>
<use href="#mkb" x="629.0" y="252.7"/>
<use href="#mko" x="623.1" y="265.3"/>
<use href="#mkb" x="615.0" y="268.2"/>
<use href="#mkb" x="640.9" y="266.0"/>
<use href="#mko" x="599.4" y="272.0"/>
<use href="#mko" x="583.9" y="280.8"/>
<use href="#mkb" x="635.7" y="284.5"/>
<use href="#mko" x="607.6" y="286.0"/>
<use href="#mkb" x="610.5" y="284.5"/>
<use href="#mkb" x="626.1" y="289.0"/>
<use href="#mkb" x="528.0" y="293.1"/>
<use href="#mkb" x="542.0" y="293.1"/>
<use href="#mkb" x="518.3" y="297.6"/>
<use href="#mkb" x="521.3" y="301.3"/>
<use href="#mkb" x="535.4" y="299.8"/>
<use href="#mkb" x="550.2" y="297.6"/>
<use href="#mkb" x="559.0" y="301.3"/>
<use href="#mkb" x="566.4" y="296.1"/>
<use href="#mkb" x="514.6" y="305.7"/>
<use href="#mkb" x="539.1" y="306.5"/>
<use href="#mkb" x="553.1" y="305.7"/>
<use href="#mkb" x="557.6" y="313.1"/>
<use href="#mkb" x="518.3" y="315.3"/>
<use href="#mkb" x="529.4" y="316.1"/>
<use href="#mkb" x="542.8" y="318.3"/>
<use href="#mko" x="522.8" y="323.5"/>
<use href="#mkb" x="530.2" y="327.2"/>
<use href="#mkb" x="576.1" y="303.5"/>
<use href="#mkb" x="576.8" y="312.4"/>
<use href="#mkb" x="556.8" y="329.4"/>
<use href="#mkb" x="568.7" y="330.1"/>
<use href="#mko" x="546.5" y="333.8"/>
<use href="#mko" x="559.8" y="336.1"/>
<use href="#mko" x="575.3" y="325.0"/>
<use href="#mkb" x="567.2" y="347.9"/>
<use href="#mkb" x="573.9" y="351.6"/>
<use href="#mkb" x="576.0" y="345.0"/>
<use href="#mko" x="605.3" y="288.0"/>
<use href="#mkb" x="628.3" y="298.3"/>
<use href="#mkw" x="615.7" y="299.1"/>
<use href="#mkb" x="580.2" y="302.0"/>
<use href="#mkb" x="589.8" y="307.2"/>
<use href="#mkb" x="614.2" y="306.5"/>
<use href="#mkb" x="621.6" y="310.9"/>
<use href="#mkb" x="631.2" y="315.3"/>
<use href="#mkb" x="583.9" y="311.6"/>
<use href="#mkb" x="594.2" y="312.4"/>
<use href="#mko" x="608.3" y="311.6"/>
<use href="#mko" x="603.9" y="318.3"/>
<use href="#mko" x="645.3" y="318.3"/>
<use href="#mko" x="581.7" y="320.5"/>
<use href="#mkb" x="598.0" y="325.7"/>
<use href="#mkb" x="611.3" y="323.5"/>
<use href="#mko" x="617.9" y="329.4"/>
<use href="#mkb" x="608.3" y="332.4"/>
<use href="#mkb" x="605.3" y="342.0"/>
<use href="#mkb" x="612.7" y="340.5"/>
<use href="#mkb" x="628.3" y="339.8"/>
<use href="#mkb" x="625.3" y="345.0"/>
<use href="#mkb" x="589.8" y="346.4"/>
<use href="#mkb" x="589.1" y="351.6"/>
<use href="#mkb" x="618.7" y="353.8"/>
<use href="#mkb" x="634.2" y="351.6"/>
<path d="M471.75,511H547.8M471.75,509V513M547.8,509V511" stroke="#6a6a60" stroke-width="0.8" fill="none" opacity="0.8"/>
<text x="556.8" y="507" class="sb">400km</text>
<text x="542" y="521" class="sb">200mi</text>
</g></svg>
<div class="tb" style="left:658px;top:90px"><svg width="46" height="22" viewBox="0 0 46 22"><circle cx="11" cy="9.2" r="4" fill="none" stroke="#e8e8e8" stroke-width="1.4"/><path d="M13.9,12.1L17.4,15.6" stroke="#e8e8e8" stroke-width="1.5" stroke-linecap="round"/><rect x="29.7" y="10" width="1.8" height="1.8" fill="#ddd"/><rect x="34.1" y="10" width="1.8" height="1.8" fill="#ddd"/><rect x="38.5" y="10" width="1.8" height="1.8" fill="#ddd"/></svg></div>
<div class="zm" style="left:684px;top:475px"><svg width="20" height="39" viewBox="0 0 20 39"><path d="M6,10.2H14.5M10.2,6V14.5M6,28.8H14.5" stroke="#e0e0e0" stroke-width="1.5"/></svg></div>
<div class="attr" style="left:606.5px;top:518.3px;width:97.5px">Esri, HERE | Esri, HERE</div>
<svg class="map" style="left:718px;top:70px;width:235px;height:217px" viewBox="718 70 235 217">
<defs><clipPath id="c718"><rect x="718" y="70" width="235" height="217"/></clipPath></defs>
<g clip-path="url(#c718)">
<rect x="718" y="70" width="235" height="217" fill="#3f3f42"/>
<path d="M667.6,-60.8L702.3,-54.5L700.7,-26.4L702.3,-11.2L703.9,0.9L706.3,9.9L711.8,18.7L715.0,26.1L718.9,33.4L722.9,39.2L727.6,45.8L728.4,52.1L724.4,52.1L722.1,56.4L725.2,59.3L726.0,63.5L729.2,69.1L730.8,76.2L729.2,81.7L733.9,83.1L743.4,81.2L749.7,81.7L752.1,77.6L749.7,69.1L752.9,64.9L757.6,60.7L767.1,60.7L771.8,60.7L778.2,59.3L782.9,50.7L784.5,43.5L786.1,33.4L787.6,21.7L788.4,9.9L789.2,0.9L784.5,-6.6L792.4,-8.1L798.7,-14.2L806.6,-17.2L809.8,-21.8L814.5,-29.5L820.8,-32.6L827.1,-45.1L822.4,-57.7L825.6,-73.6L857.2,-73.6L873.0,-54.5L888.8,-51.3L904.6,-57.7L920.4,-60.8L936.2,-67.2L952.0,-70.4L975.7,-73.6L975.7,-41.9L967.8,-37.3L952.0,-37.3L936.2,-41.9L920.4,-38.8L912.5,-37.3L904.6,-34.2L896.7,-31.1L895.1,-21.8L898.2,-14.2L896.7,-8.1L901.4,-3.6L909.3,-3.6L912.5,-2.1L910.1,9.9L910.9,21.7L909.3,31.9L906.1,35.4L898.2,36.3L891.9,33.4L887.2,21.7L882.4,14.3L874.5,18.7L868.2,21.7L863.5,29.0L858.7,42.1L857.2,50.7L858.0,64.9L858.7,73.4L859.5,81.7L855.6,87.3L850.1,93.6L842.9,94.2L840.6,94.2L839.8,102.4L835.4,107.9L832.5,109.8L824.8,110.3L820.0,109.2L818.5,107.6L818.5,105.4L822.4,102.7L816.9,98.3L815.1,96.4L809.8,96.7L802.8,98.3L797.1,99.7L791.6,102.4L784.6,107.0L778.2,111.4L771.5,114.1L763.9,116.3L758.9,118.4L753.7,121.4L750.0,121.9L746.6,119.5L743.4,116.8L742.6,115.4L740.2,116.0L737.9,117.3L735.5,114.6L733.1,112.5L732.3,111.9L729.2,108.7L722.9,107.0L716.5,115.2L707.1,120.0L699.2,118.7L667.6,106.5Z" fill="#212226"/>
<path d="M719.7,328.6L724.4,327.5L732.3,323.0L740.2,321.8L742.6,326.4L739.5,329.7L740.2,337.6L745.0,344.3L748.1,337.6L751.3,333.1L754.5,333.1L760.8,338.7L765.5,348.7L767.1,357.6L771.8,362.0L776.6,368.6L784.5,372.9L794.0,376.2L801.9,382.7L809.8,390.2L817.7,395.6L822.4,398.8L827.1,403.1L831.1,408.4L833.5,415.8L833.5,457.3L778.2,457.3L778.2,416.8L781.3,407.3L770.3,406.3L757.6,403.1L749.7,395.6L745.0,385.9L740.2,372.9L729.2,364.2L721.3,357.6L718.9,348.7L721.3,340.9L719.7,335.4Z" fill="#212226"/>
<path d="M733.1,109.8L735.5,111.9L737.9,111.1L740.6,111.9L741.5,110.3L739.5,108.7L741.2,106.0L739.5,103.8L737.1,101.6L735.5,103.8L733.9,106.0Z" fill="#3f3f42"/>
<path d="M757.6,90.6L758.4,85.1L762.4,84.5L764.7,89.2L763.9,92.8L760.0,93.1Z" fill="#3f3f42"/>
<path d="M784.5,59.3L786.9,50.7L791.6,37.7L795.5,26.1L793.2,27.6L787.6,39.2L785.3,49.3Z" fill="#3f3f42"/>
<path d="M812.1,38.6L811.3,27.6L814.5,17.6L820.8,9.0L830.3,7.5L827.1,15.8L823.2,23.2L821.6,30.5L815.3,36.3Z" fill="#3f3f42"/>
<path d="M700.7,73.4L701.5,83.7L710.2,87.3L715.0,92.8L718.1,90.1L722.1,84.5L722.1,80.3L724.4,74.8L724.4,64.1L719.7,62.1L712.6,65.8L710.2,70.6L705.5,69.1Z" fill="#3f3f42"/>
<path d="M699.2,96.9L705.5,101.0L713.4,104.6L717.3,96.9L713.4,94.2L703.9,94.2Z" fill="#3f3f42"/>
<path d="M718.1,94.2L723.7,93.6L722.9,91.4L718.9,92.0Z" fill="#3f3f42"/>
<path d="M869.8,-2.1L876.1,-11.2L888.8,-11.2L894.3,-5.1L885.6,0.9L877.7,8.4L873.0,9.9L874.5,2.4Z" fill="#3f3f42"/>
<path d="M874.5,-20.3L880.9,-24.9L888.8,-21.8L885.6,-14.2L877.7,-14.2Z" fill="#3f3f42"/>
<path d="M754.5,339.8L759.2,335.4L757.6,340.9Z" fill="#3f3f42"/>
<path d="M751.3,337.6L753.7,346.5L754.5,348.7L752.1,342.1Z" fill="#3f3f42"/>
<path d="M759.2,346.5L767.1,355.4L763.9,353.2Z" fill="#3f3f42"/>
<path d="M784.5,376.2L792.4,377.3L792.4,378.4L784.5,377.7Z" fill="#3f3f42"/>
<path d="M784.5,379.9L797.1,381.0L795.5,381.6L786.1,381.2Z" fill="#3f3f42"/>
<path d="M789.2,384.4L797.1,385.3L795.5,385.9L789.2,385.3Z" fill="#3f3f42"/>
<path d="M762.4,359.8L768.7,366.4L767.1,365.3Z" fill="#3f3f42"/>
<path d="M798.7,384.8L806.6,388.1L801.9,386.4Z" fill="#3f3f42"/>
<path d="M732.5,-37.7L745.8,-37.0L747.0,-29.0L744.2,-20.7L735.0,-16.5L733.3,-12.3L725.0,-8.2L719.7,-7.0L720.3,-14.0L724.7,-23.7L731.7,-28.7Z" fill="#212226"/>
<path d="M830.3,112.5L835.4,107.9L841.4,103.2L844.5,103.2L839.8,106.5L834.3,111.1Z" fill="#212226"/>
<path d="M850.1,92.8L855.6,91.4L860.3,84.5L861.1,73.4L858.7,73.4L856.4,84.5L850.8,90.1Z" fill="#212226"/>
<path d="M956.7,6.9L960.7,0.9L959.9,-8.1L956.7,-17.2L963.0,-20.3L967.8,-14.2L966.2,-2.1L961.4,8.4Z" fill="#212226"/>
<path d="M759.5,201.2L752.9,197.4L746.6,201.7L730.8,211.7L719.7,217.8L716.5,215.4L722.9,228.9L729.2,238.6L737.1,248.3L743.4,252.6M743.4,252.6L757.6,256.7L762.4,247.1L770.3,249.5L778.2,253.1L792.4,256.7M792.4,256.7L797.1,250.2L804.2,250.2L811.3,245.9L816.1,239.9L823.2,234.5M796.3,270.9L806.6,276.8L822.4,275.7L824.0,269.8L835.0,266.2L846.1,265.0L857.2,259.1L868.2,261.9L875.3,261.5M875.3,261.5L879.3,251.9L881.8,245.2M792.4,256.7L793.2,265.0L796.3,270.9M796.3,270.9L792.4,278.0L786.1,282.7L786.1,294.3L779.7,297.8M779.7,297.8L787.6,305.9L798.7,317.3L809.8,321.8L822.4,319.6M822.4,319.6L833.5,313.9L845.5,315.0M845.5,315.0L860.3,308.2L865.1,296.6L873.0,282.7L887.2,272.1M875.3,261.5L882.4,268.6L887.2,272.1M887.2,272.1L896.7,272.1L914.0,272.1L923.5,273.3L939.3,270.9L945.6,265.0M945.6,265.0L958.3,280.4L967.8,294.3L970.9,305.9M845.5,315.0L857.2,330.9L865.1,344.3L879.3,348.7L884.0,357.6M884.0,357.6L879.3,366.4L888.8,379.4L880.9,390.2L879.3,398.8M884.0,357.6L893.5,366.4L912.5,368.6L928.3,369.6L944.1,362.0L956.7,359.8L967.8,367.5M822.4,319.6L831.9,335.4L825.6,342.1M775.0,335.4L786.1,335.4L801.9,337.6L817.7,338.7L825.6,342.1M775.0,335.4L779.7,355.4L792.4,366.4L803.4,381.6L817.7,394.5M825.6,342.1L830.3,355.4L835.0,372.9M817.7,394.5L824.0,377.3L835.0,372.9M835.0,372.9L846.1,385.9L836.6,394.5L831.9,407.3M846.1,385.9L857.2,381.6L868.2,390.2L865.1,399.9M849.3,400.9L865.1,399.9L879.3,398.8M740.2,328.6L754.5,328.6L767.1,328.6L773.4,317.3L782.9,305.9M741.8,305.9L754.5,308.2L771.8,301.3L779.7,297.8M741.8,305.9L740.2,317.3L740.2,328.6M691.3,296.6L718.1,292.0L741.8,305.9M677.0,282.7L718.1,280.4L730.8,282.7L729.2,273.3L730.8,263.8L743.4,252.6M858.0,62.9L873.0,53.6L904.6,57.8L920.4,60.7L945.6,73.4M896.7,121.6L912.5,121.4L928.3,114.6L933.0,98.3L945.6,73.4M885.4,110.3L887.2,98.3L873.0,91.4L861.9,85.9M910.1,10.7L925.1,5.4L936.2,11.3L957.5,20.2M945.6,73.4L961.4,70.6L970.9,62.1L964.6,39.2L957.5,20.2M957.5,20.2L961.4,8.4L967.8,-37.3M898.7,185.3L912.5,175.1L928.3,175.1L944.1,176.4L959.9,182.8L975.7,184.0" fill="none" stroke="#2d2d30" stroke-width="0.8"/>
<path d="M750.0,121.9L753.7,121.4L758.9,118.4L763.9,116.3L771.5,114.1L778.2,111.4L784.6,107.0L791.6,102.4L797.1,99.7L802.8,98.3L809.8,96.7L815.1,96.4L816.9,98.3L822.4,102.7L818.5,105.4L818.5,107.6L820.0,109.2L824.8,110.3L832.5,109.8L835.4,107.9L841.4,108.7L847.7,109.2L857.2,110.3L865.1,111.1L873.0,110.8L885.4,110.3L889.6,112.5L894.3,114.1L896.7,118.7L896.7,121.6L898.6,128.1L900.1,133.4L901.4,138.7L903.3,142.6L903.5,149.2L903.3,154.4L899.0,158.3L893.5,162.2L891.5,165.3L895.1,167.4L899.5,170.7L899.5,175.1L898.7,178.7L899.0,184.0L899.8,187.8L901.7,192.9L903.8,197.9L906.9,201.4L905.0,208.2L901.4,212.9L897.9,216.9L891.9,223.3L887.7,227.7L884.0,232.6L883.2,236.2L885.3,242.3L886.6,247.1L881.8,245.2L876.1,243.2L871.4,238.2L866.6,236.7L861.6,236.2L855.6,239.9L850.8,237.4L846.4,236.9L842.9,242.3L838.2,242.3L837.9,237.4L833.5,233.0L830.3,234.5L824.8,235.0L823.2,234.5L822.4,230.6L819.2,228.2L818.9,225.0L814.5,224.7L810.6,221.5L807.4,222.8L805.0,217.8L803.4,218.8L799.5,215.9L794.0,212.4L792.4,217.1L789.2,220.3L787.3,219.1L784.5,216.6L782.0,211.9L784.5,207.9L780.5,206.7L778.2,207.9L775.0,204.4L769.2,202.4L766.3,199.2L762.4,197.9L762.0,201.4L759.5,201.2L761.6,195.4L762.2,194.2L761.9,187.8L757.9,184.0L758.1,180.2L756.0,177.2L757.9,173.8L757.6,170.0L755.3,163.5L756.8,157.3L752.9,155.7L748.9,150.5L748.9,146.6L752.9,140.0L752.9,138.2L750.7,133.4L751.3,128.1L750.0,121.9Z" fill="none" stroke="#2d2d30" stroke-width="0.8"/>
<path d="M751.4,153.6L770.8,146.3L772.9,147.6L776.1,152.6L786.3,148.0L784.7,137.7L790.4,135.9L794.2,128.0L787.8,121.5L790.0,115.1L785.4,106.5L784.6,107.0L778.2,111.4L771.5,114.1L763.9,116.3L758.9,118.4L753.7,121.4L750.0,121.9L751.3,128.1L750.7,133.4L752.9,138.2L752.9,140.0L748.9,146.6L748.9,150.5L751.3,153.6L751.4,153.6Z" fill="#6092a0"/>
<path d="M790.0,115.1L787.8,121.5L794.2,128.0L794.5,128.0L801.1,132.1L812.8,129.3L813.6,127.4L828.6,132.7L830.9,123.5L832.9,122.2L827.8,110.1L824.8,110.3L820.0,109.2L818.5,107.6L818.5,105.4L822.4,102.7L816.9,98.3L815.1,96.4L809.8,96.7L802.8,98.3L797.1,99.7L791.6,102.4L785.4,106.5L790.0,115.1Z" fill="#88a8a6"/>
<path d="M832.9,122.2L830.9,123.5L828.6,132.7L829.1,134.1L839.2,137.4L839.9,140.4L855.8,142.0L856.9,141.7L857.6,140.3L864.6,137.5L869.1,139.5L880.7,133.7L881.1,133.8L884.8,123.0L881.8,119.3L884.2,110.4L873.0,110.8L865.1,111.1L857.2,110.3L847.7,109.2L841.4,108.7L835.4,107.9L832.5,109.8L827.8,110.1L832.9,122.2Z" fill="#c4c9b0"/>
<path d="M881.8,119.3L884.8,123.0L881.1,133.8L880.7,133.7L869.1,139.5L873.7,150.1L873.3,150.9L886.4,161.5L886.8,162.3L887.3,162.3L892.2,164.2L893.5,162.2L899.0,158.3L903.3,154.4L903.5,149.2L903.3,142.6L901.4,138.7L900.1,133.4L898.6,128.1L896.7,121.6L896.7,118.7L894.3,114.1L889.6,112.5L885.4,110.3L884.2,110.4L881.8,119.3Z" fill="#c4c9b0"/>
<path d="M839.9,140.4L839.2,137.4L829.1,134.1L828.6,132.7L813.6,127.4L812.8,129.3L801.1,132.1L801.1,143.8L801.1,143.8L798.9,145.2L796.1,151.2L796.1,151.3L809.3,156.3L811.0,158.8L819.7,155.6L825.0,162.9L830.8,160.4L833.5,150.0L838.0,148.5L839.9,140.4Z" fill="#6092a0"/>
<path d="M830.8,160.4L838.3,165.3L838.1,169.0L849.6,171.7L845.1,179.4L849.3,182.0L849.3,189.3L854.0,191.7L854.2,191.6L866.2,193.3L865.9,185.7L874.6,179.6L874.4,175.9L883.8,170.7L886.5,162.6L886.8,162.3L886.4,161.5L873.3,150.9L873.7,150.1L869.1,139.5L864.6,137.5L857.6,140.3L856.9,141.7L855.8,142.0L839.9,140.4L838.0,148.5L833.5,150.0L830.8,160.4Z" fill="#88a8a6"/>
<path d="M772.9,147.6L770.8,146.3L751.4,153.6L751.3,153.6L752.9,155.7L756.8,157.3L755.3,163.5L757.6,170.0L757.9,173.8L756.0,177.2L758.1,180.2L757.9,184.0L761.9,187.8L761.9,188.5L765.1,188.6L766.7,187.4L776.6,188.0L777.3,187.2L774.1,178.6L776.5,175.5L774.6,167.8L775.0,167.3L775.0,155.0L776.1,153.2L776.1,152.6L772.9,147.6Z" fill="#6092a0"/>
<path d="M784.7,137.7L786.3,148.0L776.1,152.6L776.1,153.2L775.0,155.0L775.0,167.3L774.6,167.8L776.5,175.5L782.1,176.6L785.0,180.3L793.4,180.0L795.2,181.1L799.9,179.0L806.3,187.3L804.7,190.7L805.9,195.7L807.1,196.3L814.9,193.4L815.7,186.9L814.5,185.1L818.9,174.2L822.6,172.4L822.5,170.4L825.0,162.9L819.7,155.6L811.0,158.8L809.3,156.3L796.1,151.3L796.1,151.2L798.9,145.2L801.1,143.8L801.1,143.8L801.1,132.1L794.5,128.0L794.2,128.0L790.4,135.9L784.7,137.7Z" fill="#34506e"/>
<path d="M822.5,170.4L822.6,172.4L818.9,174.2L814.5,185.1L815.7,186.9L814.9,193.4L819.2,197.8L827.7,191.4L829.6,199.1L834.5,202.9L839.8,194.5L840.4,194.3L842.4,190.6L849.3,189.3L849.3,182.0L845.1,179.4L849.6,171.7L838.1,169.0L838.3,165.3L830.8,160.4L825.0,162.9L822.5,170.4Z" fill="#6092a0"/>
<path d="M886.5,162.6L883.8,170.7L874.4,175.9L874.6,179.6L865.9,185.7L866.2,193.3L867.7,195.5L868.1,195.6L871.7,202.8L878.1,204.9L878.1,215.1L878.6,215.5L884.0,215.0L888.5,211.3L897.0,217.8L897.9,216.9L901.4,212.9L905.0,208.2L906.9,201.4L903.8,197.9L901.7,192.9L899.8,187.8L899.0,184.0L898.7,178.7L899.5,175.1L899.5,170.7L895.1,167.4L891.5,165.3L892.2,164.2L887.3,162.3L886.8,162.3L886.5,162.6Z" fill="#88a8a6"/>
<path d="M766.7,187.4L765.1,188.6L761.9,188.5L762.2,194.2L761.6,195.4L759.5,201.2L762.0,201.4L762.4,197.9L766.3,199.2L769.2,202.4L775.0,204.4L778.2,207.9L780.5,206.7L784.5,207.9L782.0,211.9L784.5,216.6L787.3,219.1L789.2,220.3L792.4,217.1L793.9,212.6L792.6,204.4L795.2,203.6L799.2,198.1L805.9,195.7L804.7,190.7L806.3,187.3L799.9,179.0L795.2,181.1L793.4,180.0L785.0,180.3L782.1,176.6L776.5,175.5L774.1,178.6L777.3,187.2L776.6,188.0L766.7,187.4Z" fill="#34506e"/>
<path d="M814.9,193.4L807.1,196.3L805.9,195.7L799.2,198.1L795.2,203.6L792.6,204.4L793.9,212.6L794.0,212.4L799.5,215.9L803.4,218.8L805.0,217.8L807.4,222.8L810.6,221.5L812.0,222.7L812.6,220.0L816.3,216.7L817.4,210.9L814.6,208.1L814.6,205.0L819.4,199.8L819.2,197.8L814.9,193.4Z" fill="#c4c9b0"/>
<path d="M814.6,208.1L817.4,210.9L816.3,216.7L812.6,220.0L812.0,222.7L814.5,224.7L818.9,225.0L819.2,228.2L822.4,230.6L823.2,234.5L824.8,235.0L830.3,234.5L831.9,233.8L831.9,227.6L830.8,227.2L826.5,221.8L832.1,216.6L835.0,216.6L838.5,208.4L838.4,208.0L834.5,203.8L834.5,202.9L829.6,199.1L827.7,191.4L819.2,197.8L819.4,199.8L814.6,205.0L814.6,208.1Z" fill="#88a8a6"/>
<path d="M854.2,191.6L854.0,191.7L849.3,189.3L842.4,190.6L840.4,194.3L839.8,194.5L834.5,202.9L834.5,203.8L838.4,208.0L838.5,208.4L847.1,212.5L848.9,218.1L857.8,212.6L859.6,213.2L864.3,211.4L865.0,209.6L869.7,207.6L871.7,202.8L868.1,195.6L867.7,195.5L866.2,193.3L854.2,191.6Z" fill="#88a8a6"/>
<path d="M832.1,216.6L826.5,221.8L830.8,227.2L831.9,227.6L831.9,233.8L833.5,233.0L837.9,237.4L838.2,242.3L842.9,242.3L846.4,236.9L850.8,237.4L855.6,239.9L861.3,236.4L863.9,228.0L863.6,225.8L864.5,224.3L860.8,220.1L859.6,213.2L857.8,212.6L848.9,218.1L847.1,212.5L838.5,208.4L835.0,216.6L832.1,216.6Z" fill="#88a8a6"/>
<path d="M869.7,207.6L865.0,209.6L864.3,211.4L859.6,213.2L860.8,220.1L864.5,224.3L863.6,225.8L863.9,228.0L861.3,236.4L861.6,236.2L866.6,236.7L871.4,238.2L876.1,243.2L881.8,245.2L886.6,247.1L885.3,242.3L883.2,236.2L884.0,232.6L887.7,227.7L891.9,223.3L897.0,217.8L888.5,211.3L884.0,215.0L878.6,215.5L878.1,215.1L878.1,204.9L871.7,202.8L869.7,207.6Z" fill="#4a7084"/>
<path d="M751.4,153.6L770.8,146.3L772.9,147.6L776.1,152.6L786.3,148.0L784.7,137.7L790.4,135.9L794.2,128.0L787.8,121.5L790.0,115.1L785.4,106.5L784.6,107.0L778.2,111.4L771.5,114.1L763.9,116.3L758.9,118.4L753.7,121.4L750.0,121.9L751.3,128.1L750.7,133.4L752.9,138.2L752.9,140.0L748.9,146.6L748.9,150.5L751.3,153.6L751.4,153.6ZM790.0,115.1L787.8,121.5L794.2,128.0L794.5,128.0L801.1,132.1L812.8,129.3L813.6,127.4L828.6,132.7L830.9,123.5L832.9,122.2L827.8,110.1L824.8,110.3L820.0,109.2L818.5,107.6L818.5,105.4L822.4,102.7L816.9,98.3L815.1,96.4L809.8,96.7L802.8,98.3L797.1,99.7L791.6,102.4L785.4,106.5L790.0,115.1ZM832.9,122.2L830.9,123.5L828.6,132.7L829.1,134.1L839.2,137.4L839.9,140.4L855.8,142.0L856.9,141.7L857.6,140.3L864.6,137.5L869.1,139.5L880.7,133.7L881.1,133.8L884.8,123.0L881.8,119.3L884.2,110.4L873.0,110.8L865.1,111.1L857.2,110.3L847.7,109.2L841.4,108.7L835.4,107.9L832.5,109.8L827.8,110.1L832.9,122.2ZM881.8,119.3L884.8,123.0L881.1,133.8L880.7,133.7L869.1,139.5L873.7,150.1L873.3,150.9L886.4,161.5L886.8,162.3L887.3,162.3L892.2,164.2L893.5,162.2L899.0,158.3L903.3,154.4L903.5,149.2L903.3,142.6L901.4,138.7L900.1,133.4L898.6,128.1L896.7,121.6L896.7,118.7L894.3,114.1L889.6,112.5L885.4,110.3L884.2,110.4L881.8,119.3ZM839.9,140.4L839.2,137.4L829.1,134.1L828.6,132.7L813.6,127.4L812.8,129.3L801.1,132.1L801.1,143.8L801.1,143.8L798.9,145.2L796.1,151.2L796.1,151.3L809.3,156.3L811.0,158.8L819.7,155.6L825.0,162.9L830.8,160.4L833.5,150.0L838.0,148.5L839.9,140.4ZM830.8,160.4L838.3,165.3L838.1,169.0L849.6,171.7L845.1,179.4L849.3,182.0L849.3,189.3L854.0,191.7L854.2,191.6L866.2,193.3L865.9,185.7L874.6,179.6L874.4,175.9L883.8,170.7L886.5,162.6L886.8,162.3L886.4,161.5L873.3,150.9L873.7,150.1L869.1,139.5L864.6,137.5L857.6,140.3L856.9,141.7L855.8,142.0L839.9,140.4L838.0,148.5L833.5,150.0L830.8,160.4ZM772.9,147.6L770.8,146.3L751.4,153.6L751.3,153.6L752.9,155.7L756.8,157.3L755.3,163.5L757.6,170.0L757.9,173.8L756.0,177.2L758.1,180.2L757.9,184.0L761.9,187.8L761.9,188.5L765.1,188.6L766.7,187.4L776.6,188.0L777.3,187.2L774.1,178.6L776.5,175.5L774.6,167.8L775.0,167.3L775.0,155.0L776.1,153.2L776.1,152.6L772.9,147.6ZM784.7,137.7L786.3,148.0L776.1,152.6L776.1,153.2L775.0,155.0L775.0,167.3L774.6,167.8L776.5,175.5L782.1,176.6L785.0,180.3L793.4,180.0L795.2,181.1L799.9,179.0L806.3,187.3L804.7,190.7L805.9,195.7L807.1,196.3L814.9,193.4L815.7,186.9L814.5,185.1L818.9,174.2L822.6,172.4L822.5,170.4L825.0,162.9L819.7,155.6L811.0,158.8L809.3,156.3L796.1,151.3L796.1,151.2L798.9,145.2L801.1,143.8L801.1,143.8L801.1,132.1L794.5,128.0L794.2,128.0L790.4,135.9L784.7,137.7ZM822.5,170.4L822.6,172.4L818.9,174.2L814.5,185.1L815.7,186.9L814.9,193.4L819.2,197.8L827.7,191.4L829.6,199.1L834.5,202.9L839.8,194.5L840.4,194.3L842.4,190.6L849.3,189.3L849.3,182.0L845.1,179.4L849.6,171.7L838.1,169.0L838.3,165.3L830.8,160.4L825.0,162.9L822.5,170.4ZM886.5,162.6L883.8,170.7L874.4,175.9L874.6,179.6L865.9,185.7L866.2,193.3L867.7,195.5L868.1,195.6L871.7,202.8L878.1,204.9L878.1,215.1L878.6,215.5L884.0,215.0L888.5,211.3L897.0,217.8L897.9,216.9L901.4,212.9L905.0,208.2L906.9,201.4L903.8,197.9L901.7,192.9L899.8,187.8L899.0,184.0L898.7,178.7L899.5,175.1L899.5,170.7L895.1,167.4L891.5,165.3L892.2,164.2L887.3,162.3L886.8,162.3L886.5,162.6ZM766.7,187.4L765.1,188.6L761.9,188.5L762.2,194.2L761.6,195.4L759.5,201.2L762.0,201.4L762.4,197.9L766.3,199.2L769.2,202.4L775.0,204.4L778.2,207.9L780.5,206.7L784.5,207.9L782.0,211.9L784.5,216.6L787.3,219.1L789.2,220.3L792.4,217.1L793.9,212.6L792.6,204.4L795.2,203.6L799.2,198.1L805.9,195.7L804.7,190.7L806.3,187.3L799.9,179.0L795.2,181.1L793.4,180.0L785.0,180.3L782.1,176.6L776.5,175.5L774.1,178.6L777.3,187.2L776.6,188.0L766.7,187.4ZM814.9,193.4L807.1,196.3L805.9,195.7L799.2,198.1L795.2,203.6L792.6,204.4L793.9,212.6L794.0,212.4L799.5,215.9L803.4,218.8L805.0,217.8L807.4,222.8L810.6,221.5L812.0,222.7L812.6,220.0L816.3,216.7L817.4,210.9L814.6,208.1L814.6,205.0L819.4,199.8L819.2,197.8L814.9,193.4ZM814.6,208.1L817.4,210.9L816.3,216.7L812.6,220.0L812.0,222.7L814.5,224.7L818.9,225.0L819.2,228.2L822.4,230.6L823.2,234.5L824.8,235.0L830.3,234.5L831.9,233.8L831.9,227.6L830.8,227.2L826.5,221.8L832.1,216.6L835.0,216.6L838.5,208.4L838.4,208.0L834.5,203.8L834.5,202.9L829.6,199.1L827.7,191.4L819.2,197.8L819.4,199.8L814.6,205.0L814.6,208.1ZM854.2,191.6L854.0,191.7L849.3,189.3L842.4,190.6L840.4,194.3L839.8,194.5L834.5,202.9L834.5,203.8L838.4,208.0L838.5,208.4L847.1,212.5L848.9,218.1L857.8,212.6L859.6,213.2L864.3,211.4L865.0,209.6L869.7,207.6L871.7,202.8L868.1,195.6L867.7,195.5L866.2,193.3L854.2,191.6ZM832.1,216.6L826.5,221.8L830.8,227.2L831.9,227.6L831.9,233.8L833.5,233.0L837.9,237.4L838.2,242.3L842.9,242.3L846.4,236.9L850.8,237.4L855.6,239.9L861.3,236.4L863.9,228.0L863.6,225.8L864.5,224.3L860.8,220.1L859.6,213.2L857.8,212.6L848.9,218.1L847.1,212.5L838.5,208.4L835.0,216.6L832.1,216.6ZM869.7,207.6L865.0,209.6L864.3,211.4L859.6,213.2L860.8,220.1L864.5,224.3L863.6,225.8L863.9,228.0L861.3,236.4L861.6,236.2L866.6,236.7L871.4,238.2L876.1,243.2L881.8,245.2L886.6,247.1L885.3,242.3L883.2,236.2L884.0,232.6L887.7,227.7L891.9,223.3L897.0,217.8L888.5,211.3L884.0,215.0L878.6,215.5L878.1,215.1L878.1,204.9L871.7,202.8L869.7,207.6Z" fill="none" stroke="#9fb0b4" stroke-opacity="0.45" stroke-width="0.6"/>
<circle cx="810.3" cy="115" r="8" fill="#e4d29a" fill-opacity="0.96" stroke="#e4d29a" stroke-opacity="0.5" stroke-width="0.6"/>
<circle cx="855" cy="123.7" r="5.3" fill="#ececc8" fill-opacity="0.96" stroke="#ececc8" stroke-opacity="0.5" stroke-width="0.6"/>
<circle cx="888.7" cy="139.2" r="5.3" fill="#ececc8" fill-opacity="0.96" stroke="#ececc8" stroke-opacity="0.5" stroke-width="0.6"/>
<circle cx="860" cy="162.5" r="6.5" fill="#e4d29a" fill-opacity="0.96" stroke="#e4d29a" stroke-opacity="0.5" stroke-width="0.6"/>
<circle cx="818" cy="144.7" r="11" fill="#e2d29c" fill-opacity="0.96" stroke="#e2d29c" stroke-opacity="0.5" stroke-width="0.6"/>
<circle cx="889.3" cy="192.4" r="6" fill="#eae6c0" fill-opacity="0.96" stroke="#eae6c0" stroke-opacity="0.5" stroke-width="0.6"/>
<circle cx="854.4" cy="204.4" r="6.5" fill="#eae6c0" fill-opacity="0.96" stroke="#eae6c0" stroke-opacity="0.5" stroke-width="0.6"/>
<circle cx="808.7" cy="206.7" r="5.3" fill="#ececc8" fill-opacity="0.96" stroke="#ececc8" stroke-opacity="0.5" stroke-width="0.6"/>
<circle cx="770.8" cy="130.8" r="15.8" fill="#c47834" fill-opacity="0.96" stroke="#c47834" stroke-opacity="0.5" stroke-width="0.6"/>
<circle cx="832.8" cy="183" r="13.3" fill="#be7034" fill-opacity="0.96" stroke="#be7034" stroke-opacity="0.5" stroke-width="0.6"/>
<circle cx="826.7" cy="212.5" r="9.5" fill="#dca050" fill-opacity="0.96" stroke="#dca050" stroke-opacity="0.5" stroke-width="0.6"/>
<circle cx="768.3" cy="166.7" r="16" fill="#b06430" fill-opacity="0.96" stroke="#b06430" stroke-opacity="0.5" stroke-width="0.6"/>
<circle cx="847" cy="227" r="16.5" fill="#aa5c2a" fill-opacity="0.96" stroke="#aa5c2a" stroke-opacity="0.5" stroke-width="0.6"/>
<circle cx="798.7" cy="162.5" r="17" fill="#803a20" fill-opacity="0.96" stroke="#803a20" stroke-opacity="0.5" stroke-width="0.6"/>
<circle cx="785" cy="195.8" r="17.5" fill="#803a20" fill-opacity="0.96" stroke="#803a20" stroke-opacity="0.5" stroke-width="0.6"/>
<circle cx="877.6" cy="224.8" r="17" fill="#844222" fill-opacity="0.96" stroke="#844222" stroke-opacity="0.5" stroke-width="0.6"/>
<text x="904.0" y="83.9" class="cl">LITHUANIA</text>
<text x="863.0" y="102.1" class="cl">RUSSIA</text>
<text x="966.0" y="144.9" class="cl">BELARUS</text>
<text x="830.6" y="158.3" class="cl" style="stroke:none;fill:#eef2f2;opacity:0.42;letter-spacing:2.2px">POLAND</text>
<text x="773.2" y="229.7" class="cl">CZECH</text>
<text x="773.6" y="238.3" class="cl">REPUBLIC</text>
<text x="833.6" y="256.4" class="cl">SLOVAKIA</text>
<text x="748.0" y="290.9" class="cl">AUSTRIA</text>
<text x="979.0" y="285.9" class="cl">MOLDOVA</text>
<text x="987.0" y="207.9" class="cl">UKRAINE</text>
<text x="926.0" y="102.6" class="ct">Vilnius</text>
<text x="964.0" y="125.6" class="ct">Minsk</text>
<text x="723.0" y="77.6" class="ct">Copenhagen</text>
<text x="736.0" y="163.6" class="ct">Berlin</text>
<text x="857.0" y="169.6" class="ct">Warsaw</text>
<text x="752.5" y="225.2" class="ct">Prague</text>
<text x="905.6" y="231.1" class="ct" style="font-size:8.6px">Lviv</text>
<text x="826.5" y="221.6" class="ct" style="font-size:8.6px">Katowice</text>
<text x="697.0" y="240.1" class="ct" style="font-size:8.6px">Nuremberg</text>
<text x="706.0" y="276.1" class="ct" style="font-size:8.6px">Munich</text>
<text x="781.8" y="268.2" class="ct">Vienna</text>
<text x="797.8" y="275.6" class="ct">Bratislava</text>
<text x="827.0" y="287.6" class="ct">Budapest</text>
<path d="M736.75,265H807.4M736.75,263V267M807.4,263V265" stroke="#6a6a60" stroke-width="0.8" fill="none" opacity="0.8"/>
<text x="809" y="261" class="sb">300km</text>
<text x="813.5" y="275" class="sb">200mi</text>
</g></svg>
<div class="tb" style="left:900px;top:75px"><svg width="46" height="22" viewBox="0 0 46 22"><circle cx="11" cy="9.2" r="4" fill="none" stroke="#e8e8e8" stroke-width="1.4"/><path d="M13.9,12.1L17.4,15.6" stroke="#e8e8e8" stroke-width="1.5" stroke-linecap="round"/><rect x="29.7" y="10" width="1.8" height="1.8" fill="#ddd"/><rect x="34.1" y="10" width="1.8" height="1.8" fill="#ddd"/><rect x="38.5" y="10" width="1.8" height="1.8" fill="#ddd"/></svg></div>
<div class="zm" style="left:926px;top:229px"><svg width="20" height="39" viewBox="0 0 20 39"><path d="M6,10.2H14.5M10.2,6V14.5M6,28.8H14.5" stroke="#e0e0e0" stroke-width="1.5"/></svg></div>
<div class="attr" style="left:847.7px;top:272.2px;width:97.5px">Esri, HERE | Esri, HERE</div>
<svg class="map" style="left:0;top:0;width:960px;height:540px;pointer-events:none" viewBox="0 0 960 540">
<path d="M108.5,291.6H200.5M108.5,312.7H200.5M108.5,333.7H200.5M108.5,354.8H200.5M108.5,375.8H200.5M108.5,396.9H200.5M154.3,291.6V410.9M200.3,291.6V410.9" stroke="#4a4a4a" stroke-width="0.8" stroke-dasharray="1.6,2.2" fill="none"/>
<rect x="108.5" y="292.1" width="11.4" height="6.1" fill="#0a5d8f"/>
<rect x="120.0" y="292.1" width="3.0" height="6.1" fill="#c98a0c"/>
<rect x="108.5" y="299.1" width="11.4" height="6.1" fill="#0a5d8f"/>
<rect x="120.0" y="299.1" width="6.4" height="6.1" fill="#c98a0c"/>
<rect x="108.5" y="306.1" width="29.1" height="6.1" fill="#0a5d8f"/>
<rect x="137.6" y="306.1" width="7.8" height="6.1" fill="#c98a0c"/>
<rect x="108.5" y="313.1" width="11.4" height="6.1" fill="#0a5d8f"/>
<rect x="120.0" y="313.1" width="6.4" height="6.1" fill="#c98a0c"/>
<rect x="108.5" y="320.1" width="18.5" height="6.1" fill="#0a5d8f"/>
<rect x="108.5" y="327.1" width="7.8" height="6.1" fill="#0a5d8f"/>
<rect x="108.5" y="334.2" width="8.9" height="6.1" fill="#0a5d8f"/>
<rect x="117.4" y="334.2" width="18.3" height="6.1" fill="#c98a0c"/>
<rect x="135.8" y="334.2" width="7.6" height="6.1" fill="#8c8c8c"/>
<rect x="108.5" y="341.2" width="1.8" height="6.1" fill="#0a5d8f"/>
<rect x="110.3" y="341.2" width="7.8" height="6.1" fill="#c98a0c"/>
<rect x="108.5" y="348.2" width="11.4" height="6.1" fill="#0a5d8f"/>
<rect x="108.5" y="355.2" width="8.9" height="6.1" fill="#0a5d8f"/>
<rect x="117.4" y="355.2" width="2.5" height="6.1" fill="#c98a0c"/>
<rect x="108.5" y="362.2" width="16.0" height="6.1" fill="#0a5d8f"/>
<rect x="124.5" y="362.2" width="14.9" height="6.1" fill="#c98a0c"/>
<rect x="108.5" y="369.2" width="45.6" height="6.1" fill="#0a5d8f"/>
<rect x="154.1" y="369.2" width="10.1" height="6.1" fill="#c98a0c"/>
<rect x="108.5" y="376.3" width="8.9" height="6.1" fill="#0a5d8f"/>
<rect x="117.4" y="376.3" width="7.3" height="6.1" fill="#c98a0c"/>
<rect x="124.8" y="376.3" width="2.3" height="6.1" fill="#8c8c8c"/>
<rect x="108.5" y="383.3" width="6.9" height="6.1" fill="#0a5d8f"/>
<rect x="115.4" y="383.3" width="5.7" height="6.1" fill="#8c8c8c"/>
<rect x="108.5" y="390.3" width="2.3" height="6.1" fill="#0a5d8f"/>
<rect x="108.5" y="397.3" width="66.4" height="6.1" fill="#0a5d8f"/>
<rect x="108.5" y="404.3" width="8.9" height="6.1" fill="#0a5d8f"/>
<rect x="117.4" y="404.3" width="2.3" height="6.1" fill="#c98a0c"/>
<rect x="119.7" y="404.3" width="5.3" height="6.1" fill="#8c8c8c"/>
<path d="M108.4,291V411.3H200.5M200.5,408.5V411.3M154.3,408.5V411.3" stroke="#6a6a6a" stroke-width="1" fill="none"/>
<text x="99.5" y="299.1" class="ax" text-anchor="end" style="letter-spacing:-0.15px">dolnośląskie</text>
<text x="99.5" y="320.2" class="ax" text-anchor="end" style="letter-spacing:-0.15px">lubelskie</text>
<text x="99.5" y="341.2" class="ax" text-anchor="end" style="letter-spacing:-0.15px">mazowieckie</text>
<text x="99.5" y="362.3" class="ax" text-anchor="end" style="letter-spacing:-0.15px">podlaskie</text>
<text x="99.5" y="383.3" class="ax" text-anchor="end" style="letter-spacing:-0.15px">świętokrzyskie</text>
<text x="99.5" y="404.4" class="ax" text-anchor="end" style="letter-spacing:-0.15px">wielkopolskie</text>
<path d="M104.3,295.1H108.4M104.3,316.2H108.4M104.3,337.2H108.4M104.3,358.3H108.4M104.3,379.3H108.4M104.3,400.4H108.4" stroke="#6a6a6a" stroke-width="0.8"/>
<text x="108.4" y="428.2" class="ax" text-anchor="middle" style="font-size:9px">0</text>
<text x="154.2" y="428.2" class="ax" text-anchor="middle" style="font-size:9px">20</text>
<text x="200" y="428.2" class="ax" text-anchor="middle" style="font-size:9px">40</text>
</svg>
<div class="lg" style="left:119.3px;top:456px"><i style="left:0;top:0;background:#0a5d8f"></i><span style="position:absolute;left:14.5px;top:0.6px">nadzór doraźny</span></div>
<div class="lg" style="left:119.3px;top:475.6px"><i style="left:0;top:0;background:#bb7d06;box-shadow:0 0 0 0.8px #d4900f inset"></i><span style="position:absolute;left:14.5px;top:0.6px">stała obecność</span></div>
<div class="lg" style="left:119.3px;top:495px"><i style="left:0;top:0;background:#8a8a8a"></i><span style="position:absolute;left:14.5px;top:0.6px">brak nadzoru</span></div>
<div class="foot" style="right:740.5px;top:521.5px">Ostatnia aktualizacja: 20 minut temu</div>
<svg class="map" style="left:0;top:0;width:960px;height:540px;pointer-events:none" viewBox="0 0 960 540">
<path d="M288.6,331.0H423M288.6,343.8H423M288.6,356.6H423M288.6,369.4H423M288.6,382.1H423M288.6,394.9H423M288.6,407.7H423M288.6,420.5H423M355.8,331V420.5M422.9,331V420.5" stroke="#4a4a4a" stroke-width="0.8" stroke-dasharray="1.6,2.2" fill="none"/>
<rect x="288.6" y="332.1" width="6.7" height="10.6" fill="#b30000"/>
<text x="292.0" y="340.7" class="ax" text-anchor="middle" style="font-size:8.8px;fill:#f0d8d8">2</text>
<rect x="295.3" y="332.1" width="13.4" height="10.6" fill="#3aa60e"/>
<text x="302.0" y="340.7" class="ax" text-anchor="middle" style="font-size:8.8px;fill:#d8ecd0">4</text>
<text x="282.5" y="340.6" class="ax" text-anchor="end" style="font-size:9px">Białoruś</text>
<rect x="288.6" y="344.9" width="16.8" height="10.6" fill="#b30000"/>
<text x="297.0" y="353.5" class="ax" text-anchor="middle" style="font-size:8.8px;fill:#f0d8d8">5</text>
<rect x="305.4" y="344.9" width="33.6" height="10.6" fill="#ecec00"/>
<text x="322.2" y="353.5" class="ax" text-anchor="middle" style="font-size:8.8px;fill:#9a9a50">10</text>
<text x="282.5" y="353.4" class="ax" text-anchor="end" style="font-size:9px">Czechy</text>
<rect x="288.6" y="357.7" width="6.7" height="10.6" fill="#ecec00"/>
<text x="292.0" y="366.3" class="ax" text-anchor="middle" style="font-size:8.8px;fill:#9a9a50">2</text>
<text x="282.5" y="366.2" class="ax" text-anchor="end" style="font-size:9px">Litwa</text>
<rect x="288.6" y="370.5" width="73.9" height="10.6" fill="#b30000"/>
<text x="325.6" y="379.1" class="ax" text-anchor="middle" style="font-size:8.8px;fill:#f0d8d8">22</text>
<rect x="362.5" y="370.5" width="30.2" height="10.6" fill="#ecec00"/>
<text x="377.6" y="379.1" class="ax" text-anchor="middle" style="font-size:8.8px;fill:#9a9a50">9</text>
<text x="282.5" y="378.9" class="ax" text-anchor="end" style="font-size:9px">Niemcy</text>
<rect x="288.6" y="383.2" width="6.7" height="10.6" fill="#b30000"/>
<text x="292.0" y="391.8" class="ax" text-anchor="middle" style="font-size:8.8px;fill:#f0d8d8">2</text>
<rect x="295.3" y="383.2" width="6.7" height="10.6" fill="#3aa60e"/>
<text x="298.7" y="391.8" class="ax" text-anchor="middle" style="font-size:8.8px;fill:#d8ecd0">2</text>
<text x="282.5" y="391.7" class="ax" text-anchor="end" style="font-size:9px">Rosja</text>
<rect x="288.6" y="396.0" width="10.1" height="10.6" fill="#b30000"/>
<text x="293.6" y="404.6" class="ax" text-anchor="middle" style="font-size:8.8px;fill:#f0d8d8">3</text>
<rect x="298.7" y="396.0" width="6.7" height="10.6" fill="#ecec00"/>
<text x="302.0" y="404.6" class="ax" text-anchor="middle" style="font-size:8.8px;fill:#9a9a50">2</text>
<text x="282.5" y="404.5" class="ax" text-anchor="end" style="font-size:9px">Słowacja</text>
<rect x="288.6" y="408.8" width="13.4" height="10.6" fill="#b30000"/>
<text x="295.3" y="417.4" class="ax" text-anchor="middle" style="font-size:8.8px;fill:#f0d8d8">4</text>
<rect x="302.0" y="408.8" width="13.4" height="10.6" fill="#3aa60e"/>
<text x="308.8" y="417.4" class="ax" text-anchor="middle" style="font-size:8.8px;fill:#d8ecd0">4</text>
<text x="282.5" y="417.3" class="ax" text-anchor="end" style="font-size:9px">Ukraina</text>
<path d="M285,337.4H288.6M285,350.2H288.6M285,363.0H288.6M285,375.8H288.6M285,388.5H288.6M285,401.3H288.6M285,414.1H288.6" stroke="#6a6a6a" stroke-width="0.8"/>
<path d="M288.6,330.5V421.2H423M422.9,418.5V421.2M355.8,418.5V421.2" stroke="#6a6a6a" stroke-width="1" fill="none"/>
<text x="288.6" y="437.2" class="ax" text-anchor="middle" style="font-size:9px">0</text>
<text x="355.6" y="437.2" class="ax" text-anchor="middle" style="font-size:9px">20</text>
<text x="422.9" y="437.2" class="ax" text-anchor="middle" style="font-size:9px">40</text>
</svg>
<div class="lg" style="left:313.2px;top:460.6px"><i style="left:0;top:0;background:#b00000"></i><span style="position:absolute;left:14px;top:0.6px">zamknięte</span></div>
<div class="lg" style="left:313.2px;top:480px"><i style="left:0;top:0;background:#3fa80a"></i><span style="position:absolute;left:14px;top:0.6px">otwarte</span></div>
<div class="lg" style="left:313.2px;top:500px"><i style="left:0;top:0;background:#ebeb00"></i><span style="position:absolute;left:14px;top:0.6px">kontrola wznowiona</span></div>
<div class="foot" style="right:517.5px;top:521.5px">Ostatnia aktualizacja: 20 minut temu</div>
<svg class="map" style="left:0;top:0;width:960px;height:540px;pointer-events:none" viewBox="0 0 960 540">
<path d="M826,330.5H930.5M826,372.0H930.5M826,413.5H930.5M826,455.0H930.5M826,496.5H930.5M930.5,330.5V496.5" stroke="#4a4a4a" stroke-width="0.8" stroke-dasharray="1.6,2.2" fill="none"/>
<rect x="826" y="334.1" width="11.1" height="33.6" fill="#dadada" stroke="#ececec" stroke-width="0.8"/>
<text x="838.9" y="354.4" class="ax" style="font-size:9px">53</text>
<text x="817.8" y="354.4" class="ax" text-anchor="end" style="font-size:8.6px;letter-spacing:-0.4px">Liczba pojazdów PSP</text>
<rect x="826" y="375.6" width="22.9" height="33.6" fill="#dadada" stroke="#ececec" stroke-width="0.8"/>
<text x="850.7" y="395.9" class="ax" style="font-size:9px">109</text>
<text x="817.8" y="395.9" class="ax" text-anchor="end" style="font-size:8.6px;letter-spacing:-0.4px">Liczba ratowników PSP</text>
<rect x="826" y="417.1" width="39.0" height="33.6" fill="#dadada" stroke="#ececec" stroke-width="0.8"/>
<text x="866.8" y="437.4" class="ax" style="font-size:9px">186</text>
<text x="817.8" y="437.4" class="ax" text-anchor="end" style="font-size:8.6px;letter-spacing:-0.4px">Liczba pojazdów OSP</text>
<rect x="826" y="458.6" width="88.5" height="33.6" fill="#dadada" stroke="#ececec" stroke-width="0.8"/>
<text x="916.3" y="478.9" class="ax" style="font-size:9px">422</text>
<text x="817.8" y="478.9" class="ax" text-anchor="end" style="font-size:8.6px;letter-spacing:-0.4px">Liczba druhów OSP</text>
<path d="M822,351.2H826M822,392.8H826M822,434.2H826M822,475.8H826" stroke="#6a6a6a" stroke-width="0.8"/>
<path d="M826,330V497.0H930.5M930.5,494.0V497.0" stroke="#6a6a6a" stroke-width="1" fill="none"/>
<text x="826" y="512.5" class="ax" text-anchor="middle" style="font-size:9px">0</text>
<text x="930.4" y="512.5" class="ax" text-anchor="middle" style="font-size:9px">500</text>
</svg>
<div class="foot" style="right:10.5px;top:521.5px">Ostatnia aktualizacja: 20 minut temu</div>
</body></html>
